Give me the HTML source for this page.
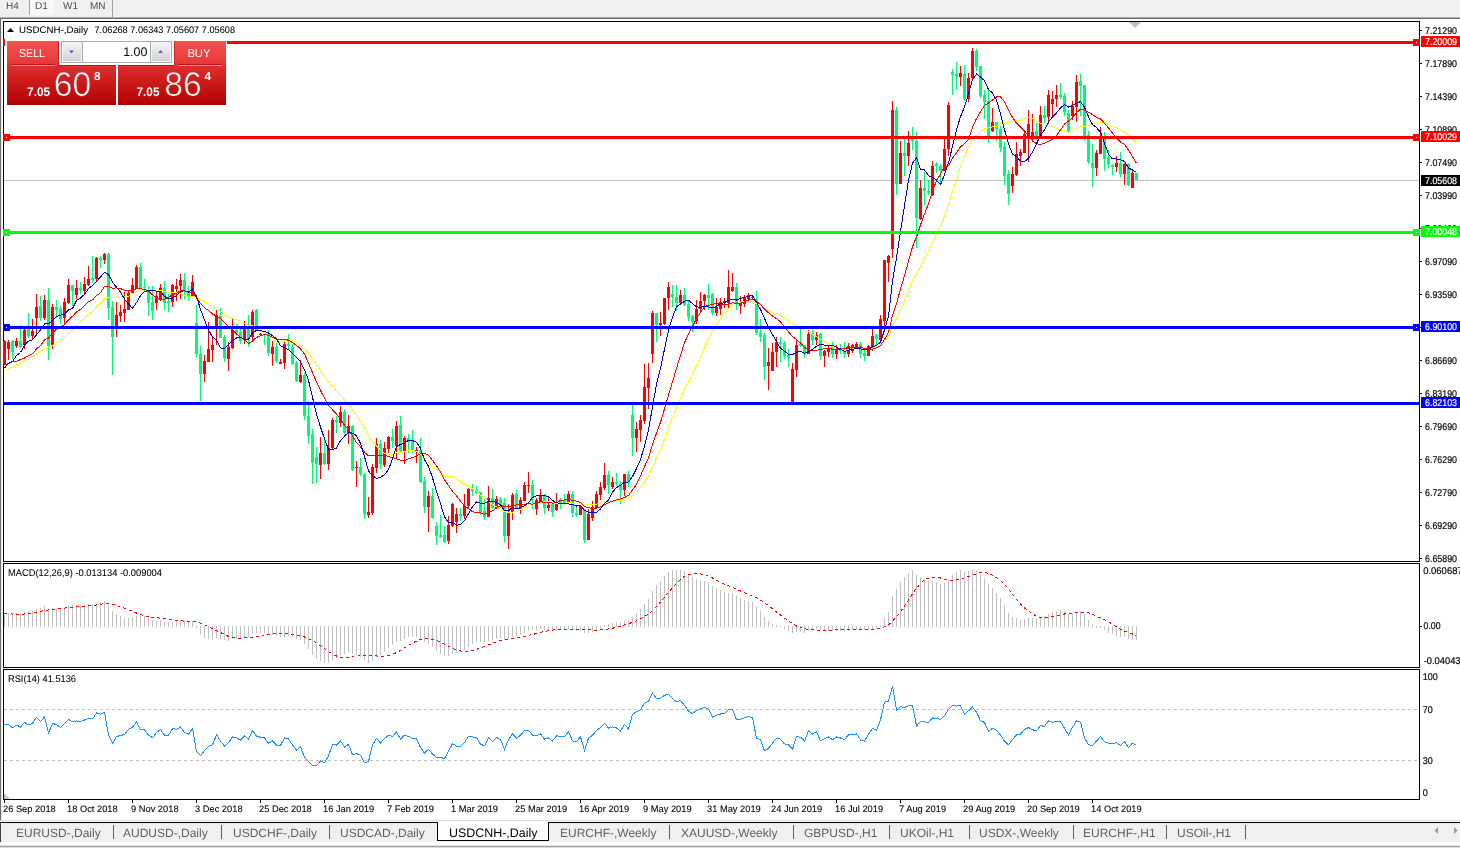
<!DOCTYPE html>
<html lang="en">
<head>
<meta charset="utf-8">
<title>USDCNH-,Daily</title>
<style>
html,body{margin:0;padding:0;background:#fff;}
body{text-rendering:geometricPrecision;width:1460px;height:848px;position:relative;overflow:hidden;font-family:"Liberation Sans",Arial,sans-serif;}
#toolbar{position:absolute;left:0;top:0;width:1460px;height:18px;background:#f0f0f0;border-bottom:1px solid #6e6e6e;box-shadow:inset 0 -1px 0 #acacac;box-sizing:content-box;}
#toolbar .tf{position:absolute;top:0px;font-size:10px;color:#4a4a4a;line-height:13px;}
#toolbar .sep{position:absolute;top:0;width:1px;height:15px;background:#a0a0a0;}
#toolbar .act{position:absolute;left:30px;top:0;width:24px;height:15px;background:#f8f8f8;}
#leftedge{position:absolute;left:0;top:19px;width:1px;height:802px;background:#6e6e6e;}
#leftedge2{position:absolute;left:1px;top:19px;width:1px;height:801px;background:#ececec;}
#chart{position:absolute;left:0;top:0;width:1460px;height:848px;}
#chart text{font-family:"Liberation Sans",Arial,sans-serif;}
/* one click trading panel */
#octbg{position:absolute;left:5px;top:38px;width:222px;height:67px;background:#fff;}
#oct{position:absolute;left:7px;top:41px;width:219px;height:64px;}
#oct .btn{position:absolute;top:0;height:24px;width:52px;background:linear-gradient(#f85050,#e53a3a);color:#fff;font-size:11.5px;letter-spacing:-0.3px;text-align:center;line-height:24px;}
#oct .btn span{display:inline-block;border-bottom:1px solid rgba(255,255,255,.55);width:44px;height:23px;line-height:24px;}
#oct .sell{left:0;}
#oct .buy{left:167px;}
#oct .big{position:absolute;top:24px;height:40px;background:linear-gradient(#e02d2d,#b80808 85%,#b00000);color:#fff;}
#oct .bigl{left:0;width:109px;}
#oct .bigr{left:111px;width:108px;}
#oct .sm{position:absolute;font-size:11.5px;font-weight:bold;bottom:8px;letter-spacing:0.3px;}
#oct .lg{position:absolute;font-size:31px;bottom:3.3px;line-height:34px;letter-spacing:0.5px;}
#oct .sup{position:absolute;font-size:11px;font-weight:bold;top:4.5px;}
#oct .spin{position:absolute;left:54px;top:0;width:111px;height:22px;background:#fff;border:1px solid #a8aab4;box-sizing:border-box;}
#oct .sb{position:absolute;top:0px;width:21px;height:20px;background:linear-gradient(#f6f6f6,#e2e2e2 50%,#d2d2d2);box-shadow:inset 0 0 0 1px #f4f4f4;box-sizing:border-box;}
#oct .val{position:absolute;right:23.5px;top:3px;font-size:12.5px;color:#000;line-height:15px;}
/* bottom tabs */
#tabs{position:absolute;left:0;top:820px;width:1460px;height:28px;background:#fff;}
#tabs .bar{position:absolute;left:0;top:3px;width:1460px;height:19px;background:#f0f0f0;}
#tabs .topl{position:absolute;left:0;top:0;width:1460px;height:1px;background:#dcdcdc;}
#tabs .blk{position:absolute;left:0;top:2px;width:1460px;height:1px;background:#000;}
#tabs .t{position:absolute;top:4.7px;font-size:12px;color:#606060;line-height:17px;white-space:nowrap;}
#tabs .s{position:absolute;top:5px;width:1px;height:14px;background:#606060;}
#tabs .active{position:absolute;left:437px;top:2px;width:110px;height:18px;background:#fff;border:1px solid #000;border-top:none;}
#tabs .active span{position:absolute;left:11px;top:2.7px;font-size:12.45px;color:#000;line-height:17px;white-space:nowrap;}
#tabs .bot1{position:absolute;left:0;top:25px;width:1460px;height:2px;background:linear-gradient(#dedede 50%,#a4a4a4 50%);}
#tabs .bot2{position:absolute;left:0;top:27px;width:1460px;height:1px;background:#dadada;}
#tabs .edge{position:absolute;left:0;top:2px;width:1px;height:20px;background:#404040;}
</style>
</head>
<body>
<div id="toolbar">
  <div class="act"></div>
  <div class="tf" style="left:6px">H4</div>
  <div class="sep" style="left:29px"></div>
  <div class="tf" style="left:35px">D1</div>
  <div class="tf" style="left:63px">W1</div>
  <div class="tf" style="left:90px">MN</div>
  <div class="sep" style="left:112px;height:17px"></div>
</div>
<div id="leftedge"></div><div id="leftedge2"></div>
<svg id="chart" width="1460" height="848" viewBox="0 0 1460 848">
<g shape-rendering="crispEdges">
<rect x="3.5" y="21.5" width="1416" height="540" fill="#fff" stroke="#000" stroke-width="1"/>
<rect x="3.5" y="563.5" width="1416" height="104" fill="#fff" stroke="#000" stroke-width="1"/>
<rect x="3.5" y="669.5" width="1416" height="130" fill="#fff" stroke="#000" stroke-width="1"/>
<rect x="4" y="180" width="1415" height="1" fill="#c0c0c0"/>
</g>
<g shape-rendering="crispEdges">
<rect x="4" y="340" width="1" height="25" fill="#FF0000"/>
<rect x="3" y="341" width="3" height="23" fill="#FF0000"/>
<rect x="8" y="340" width="1" height="20" fill="#FF0000"/>
<rect x="7" y="342" width="3" height="7" fill="#FF0000"/>
<rect x="12" y="340" width="1" height="19" fill="#00FA72"/>
<rect x="11" y="341" width="3" height="11" fill="#00FA72"/>
<rect x="16" y="338" width="1" height="10" fill="#FF0000"/>
<rect x="15" y="341" width="3" height="5" fill="#FF0000"/>
<rect x="20" y="325" width="1" height="23" fill="#00FA72"/>
<rect x="19" y="341" width="3" height="6" fill="#00FA72"/>
<rect x="24" y="329" width="1" height="20" fill="#FF0000"/>
<rect x="23" y="330" width="3" height="15" fill="#FF0000"/>
<rect x="28" y="313" width="1" height="25" fill="#00FA72"/>
<rect x="27" y="329" width="3" height="7" fill="#00FA72"/>
<rect x="32" y="319" width="1" height="21" fill="#FF0000"/>
<rect x="31" y="331" width="3" height="5" fill="#FF0000"/>
<rect x="36" y="294" width="1" height="40" fill="#FF0000"/>
<rect x="35" y="307" width="3" height="11" fill="#FF0000"/>
<rect x="40" y="296" width="1" height="25" fill="#00FA72"/>
<rect x="39" y="306" width="3" height="12" fill="#00FA72"/>
<rect x="44" y="295" width="1" height="25" fill="#FF0000"/>
<rect x="43" y="300" width="3" height="18" fill="#FF0000"/>
<rect x="48" y="288" width="1" height="72" fill="#00FA72"/>
<rect x="47" y="300" width="3" height="46" fill="#00FA72"/>
<rect x="52" y="304" width="1" height="45" fill="#FF0000"/>
<rect x="51" y="307" width="3" height="38" fill="#FF0000"/>
<rect x="56" y="300" width="1" height="18" fill="#00FA72"/>
<rect x="55" y="307" width="3" height="3" fill="#00FA72"/>
<rect x="60" y="306" width="1" height="18" fill="#00FA72"/>
<rect x="59" y="309" width="3" height="10" fill="#00FA72"/>
<rect x="64" y="298" width="1" height="26" fill="#FF0000"/>
<rect x="63" y="302" width="3" height="16" fill="#FF0000"/>
<rect x="68" y="279" width="1" height="25" fill="#FF0000"/>
<rect x="67" y="285" width="3" height="18" fill="#FF0000"/>
<rect x="72" y="285" width="1" height="21" fill="#00FA72"/>
<rect x="71" y="285" width="3" height="6" fill="#00FA72"/>
<rect x="76" y="280" width="1" height="19" fill="#FF0000"/>
<rect x="75" y="288" width="3" height="7" fill="#FF0000"/>
<rect x="80" y="282" width="1" height="12" fill="#00FA72"/>
<rect x="79" y="288" width="3" height="2" fill="#00FA72"/>
<rect x="84" y="277" width="1" height="16" fill="#FF0000"/>
<rect x="83" y="284" width="3" height="7" fill="#FF0000"/>
<rect x="88" y="266" width="1" height="20" fill="#FF0000"/>
<rect x="87" y="279" width="3" height="6" fill="#FF0000"/>
<rect x="92" y="256" width="1" height="27" fill="#00FA72"/>
<rect x="91" y="278" width="3" height="2" fill="#00FA72"/>
<rect x="96" y="257" width="1" height="24" fill="#FF0000"/>
<rect x="95" y="258" width="3" height="21" fill="#FF0000"/>
<rect x="100" y="256" width="1" height="12" fill="#00FA72"/>
<rect x="99" y="258" width="3" height="2" fill="#00FA72"/>
<rect x="104" y="253" width="1" height="11" fill="#FF0000"/>
<rect x="103" y="254" width="3" height="6" fill="#FF0000"/>
<rect x="108" y="253" width="1" height="67" fill="#00FA72"/>
<rect x="107" y="254" width="3" height="54" fill="#00FA72"/>
<rect x="112" y="301" width="1" height="74" fill="#00FA72"/>
<rect x="111" y="307" width="3" height="30" fill="#00FA72"/>
<rect x="116" y="302" width="1" height="35" fill="#FF0000"/>
<rect x="115" y="315" width="3" height="14" fill="#FF0000"/>
<rect x="120" y="305" width="1" height="17" fill="#FF0000"/>
<rect x="119" y="312" width="3" height="4" fill="#FF0000"/>
<rect x="124" y="292" width="1" height="30" fill="#FF0000"/>
<rect x="123" y="309" width="3" height="4" fill="#FF0000"/>
<rect x="128" y="291" width="1" height="19" fill="#FF0000"/>
<rect x="127" y="293" width="3" height="17" fill="#FF0000"/>
<rect x="132" y="278" width="1" height="16" fill="#FF0000"/>
<rect x="131" y="285" width="3" height="8" fill="#FF0000"/>
<rect x="136" y="265" width="1" height="23" fill="#FF0000"/>
<rect x="135" y="267" width="3" height="21" fill="#FF0000"/>
<rect x="140" y="263" width="1" height="25" fill="#00FA72"/>
<rect x="139" y="267" width="3" height="21" fill="#00FA72"/>
<rect x="144" y="279" width="1" height="13" fill="#00FA72"/>
<rect x="143" y="287" width="3" height="1" fill="#00FA72"/>
<rect x="148" y="286" width="1" height="30" fill="#00FA72"/>
<rect x="147" y="290" width="3" height="13" fill="#00FA72"/>
<rect x="152" y="286" width="1" height="34" fill="#00FA72"/>
<rect x="151" y="302" width="3" height="9" fill="#00FA72"/>
<rect x="156" y="291" width="1" height="19" fill="#FF0000"/>
<rect x="155" y="296" width="3" height="7" fill="#FF0000"/>
<rect x="160" y="284" width="1" height="17" fill="#FF0000"/>
<rect x="159" y="288" width="3" height="11" fill="#FF0000"/>
<rect x="164" y="281" width="1" height="29" fill="#00FA72"/>
<rect x="163" y="288" width="3" height="15" fill="#00FA72"/>
<rect x="168" y="294" width="1" height="18" fill="#00FA72"/>
<rect x="167" y="301" width="3" height="2" fill="#00FA72"/>
<rect x="172" y="284" width="1" height="23" fill="#FF0000"/>
<rect x="171" y="285" width="3" height="17" fill="#FF0000"/>
<rect x="176" y="279" width="1" height="22" fill="#FF0000"/>
<rect x="175" y="286" width="3" height="3" fill="#FF0000"/>
<rect x="180" y="274" width="1" height="25" fill="#FF0000"/>
<rect x="179" y="280" width="3" height="6" fill="#FF0000"/>
<rect x="184" y="273" width="1" height="26" fill="#00FA72"/>
<rect x="183" y="280" width="3" height="12" fill="#00FA72"/>
<rect x="188" y="286" width="1" height="15" fill="#00FA72"/>
<rect x="187" y="292" width="3" height="4" fill="#00FA72"/>
<rect x="192" y="275" width="1" height="21" fill="#FF0000"/>
<rect x="191" y="282" width="3" height="14" fill="#FF0000"/>
<rect x="196" y="305" width="1" height="52" fill="#00FA72"/>
<rect x="195" y="323" width="3" height="31" fill="#00FA72"/>
<rect x="200" y="346" width="1" height="55" fill="#00FA72"/>
<rect x="199" y="354" width="3" height="20" fill="#00FA72"/>
<rect x="204" y="355" width="1" height="27" fill="#FF0000"/>
<rect x="203" y="361" width="3" height="13" fill="#FF0000"/>
<rect x="208" y="322" width="1" height="40" fill="#FF0000"/>
<rect x="207" y="349" width="3" height="13" fill="#FF0000"/>
<rect x="212" y="338" width="1" height="24" fill="#FF0000"/>
<rect x="211" y="345" width="3" height="5" fill="#FF0000"/>
<rect x="216" y="310" width="1" height="35" fill="#FF0000"/>
<rect x="215" y="315" width="3" height="11" fill="#FF0000"/>
<rect x="220" y="308" width="1" height="30" fill="#00FA72"/>
<rect x="219" y="316" width="3" height="22" fill="#00FA72"/>
<rect x="224" y="335" width="1" height="27" fill="#00FA72"/>
<rect x="223" y="337" width="3" height="21" fill="#00FA72"/>
<rect x="228" y="342" width="1" height="29" fill="#FF0000"/>
<rect x="227" y="347" width="3" height="12" fill="#FF0000"/>
<rect x="232" y="319" width="1" height="30" fill="#FF0000"/>
<rect x="231" y="330" width="3" height="18" fill="#FF0000"/>
<rect x="236" y="324" width="1" height="12" fill="#00FA72"/>
<rect x="235" y="330" width="3" height="3" fill="#00FA72"/>
<rect x="240" y="329" width="1" height="15" fill="#00FA72"/>
<rect x="239" y="332" width="3" height="9" fill="#00FA72"/>
<rect x="244" y="321" width="1" height="23" fill="#FF0000"/>
<rect x="243" y="328" width="3" height="11" fill="#FF0000"/>
<rect x="248" y="315" width="1" height="32" fill="#00FA72"/>
<rect x="247" y="328" width="3" height="11" fill="#00FA72"/>
<rect x="252" y="310" width="1" height="32" fill="#FF0000"/>
<rect x="251" y="312" width="3" height="25" fill="#FF0000"/>
<rect x="256" y="309" width="1" height="22" fill="#00FA72"/>
<rect x="255" y="310" width="3" height="20" fill="#00FA72"/>
<rect x="260" y="333" width="1" height="3" fill="#FF0000"/>
<rect x="259" y="334" width="3" height="1" fill="#FF0000"/>
<rect x="264" y="333" width="1" height="12" fill="#00FA72"/>
<rect x="263" y="334" width="3" height="1" fill="#00FA72"/>
<rect x="268" y="330" width="1" height="26" fill="#00FA72"/>
<rect x="267" y="334" width="3" height="19" fill="#00FA72"/>
<rect x="272" y="341" width="1" height="25" fill="#FF0000"/>
<rect x="271" y="347" width="3" height="7" fill="#FF0000"/>
<rect x="276" y="342" width="1" height="21" fill="#00FA72"/>
<rect x="275" y="347" width="3" height="14" fill="#00FA72"/>
<rect x="280" y="359" width="1" height="5" fill="#FF0000"/>
<rect x="279" y="362" width="3" height="2" fill="#FF0000"/>
<rect x="284" y="342" width="1" height="27" fill="#FF0000"/>
<rect x="283" y="344" width="3" height="19" fill="#FF0000"/>
<rect x="288" y="334" width="1" height="16" fill="#00FA72"/>
<rect x="287" y="344" width="3" height="2" fill="#00FA72"/>
<rect x="292" y="344" width="1" height="21" fill="#00FA72"/>
<rect x="291" y="347" width="3" height="17" fill="#00FA72"/>
<rect x="296" y="361" width="1" height="21" fill="#00FA72"/>
<rect x="295" y="363" width="3" height="18" fill="#00FA72"/>
<rect x="300" y="360" width="1" height="23" fill="#FF0000"/>
<rect x="299" y="375" width="3" height="7" fill="#FF0000"/>
<rect x="304" y="373" width="1" height="47" fill="#00FA72"/>
<rect x="303" y="375" width="3" height="41" fill="#00FA72"/>
<rect x="308" y="401" width="1" height="43" fill="#00FA72"/>
<rect x="307" y="416" width="3" height="20" fill="#00FA72"/>
<rect x="312" y="429" width="1" height="55" fill="#00FA72"/>
<rect x="311" y="434" width="3" height="29" fill="#00FA72"/>
<rect x="316" y="447" width="1" height="36" fill="#00FA72"/>
<rect x="315" y="457" width="3" height="7" fill="#00FA72"/>
<rect x="320" y="437" width="1" height="42" fill="#FF0000"/>
<rect x="319" y="453" width="3" height="12" fill="#FF0000"/>
<rect x="324" y="437" width="1" height="28" fill="#00FA72"/>
<rect x="323" y="453" width="3" height="11" fill="#00FA72"/>
<rect x="328" y="430" width="1" height="40" fill="#FF0000"/>
<rect x="327" y="448" width="3" height="16" fill="#FF0000"/>
<rect x="332" y="418" width="1" height="32" fill="#FF0000"/>
<rect x="331" y="420" width="3" height="28" fill="#FF0000"/>
<rect x="336" y="416" width="1" height="17" fill="#00FA72"/>
<rect x="335" y="420" width="3" height="2" fill="#00FA72"/>
<rect x="340" y="406" width="1" height="21" fill="#FF0000"/>
<rect x="339" y="412" width="3" height="11" fill="#FF0000"/>
<rect x="344" y="409" width="1" height="25" fill="#00FA72"/>
<rect x="343" y="412" width="3" height="21" fill="#00FA72"/>
<rect x="348" y="415" width="1" height="29" fill="#FF0000"/>
<rect x="347" y="426" width="3" height="7" fill="#FF0000"/>
<rect x="352" y="425" width="1" height="46" fill="#00FA72"/>
<rect x="351" y="426" width="3" height="44" fill="#00FA72"/>
<rect x="356" y="461" width="1" height="26" fill="#FF0000"/>
<rect x="355" y="467" width="3" height="1" fill="#FF0000"/>
<rect x="360" y="458" width="1" height="18" fill="#00FA72"/>
<rect x="359" y="467" width="3" height="7" fill="#00FA72"/>
<rect x="364" y="473" width="1" height="46" fill="#00FA72"/>
<rect x="363" y="474" width="3" height="40" fill="#00FA72"/>
<rect x="368" y="497" width="1" height="21" fill="#FF0000"/>
<rect x="367" y="512" width="3" height="3" fill="#FF0000"/>
<rect x="372" y="464" width="1" height="51" fill="#FF0000"/>
<rect x="371" y="467" width="3" height="46" fill="#FF0000"/>
<rect x="376" y="438" width="1" height="35" fill="#FF0000"/>
<rect x="375" y="444" width="3" height="24" fill="#FF0000"/>
<rect x="380" y="440" width="1" height="29" fill="#00FA72"/>
<rect x="379" y="444" width="3" height="20" fill="#00FA72"/>
<rect x="384" y="442" width="1" height="25" fill="#FF0000"/>
<rect x="383" y="448" width="3" height="17" fill="#FF0000"/>
<rect x="388" y="436" width="1" height="17" fill="#FF0000"/>
<rect x="387" y="437" width="3" height="12" fill="#FF0000"/>
<rect x="392" y="429" width="1" height="19" fill="#00FA72"/>
<rect x="391" y="437" width="3" height="4" fill="#00FA72"/>
<rect x="396" y="421" width="1" height="37" fill="#FF0000"/>
<rect x="395" y="426" width="3" height="20" fill="#FF0000"/>
<rect x="400" y="416" width="1" height="37" fill="#00FA72"/>
<rect x="399" y="425" width="3" height="26" fill="#00FA72"/>
<rect x="404" y="436" width="1" height="28" fill="#FF0000"/>
<rect x="403" y="438" width="3" height="13" fill="#FF0000"/>
<rect x="408" y="434" width="1" height="19" fill="#00FA72"/>
<rect x="407" y="438" width="3" height="4" fill="#00FA72"/>
<rect x="412" y="430" width="1" height="23" fill="#00FA72"/>
<rect x="411" y="441" width="3" height="9" fill="#00FA72"/>
<rect x="416" y="447" width="1" height="16" fill="#FF0000"/>
<rect x="415" y="450" width="3" height="1" fill="#FF0000"/>
<rect x="420" y="438" width="1" height="45" fill="#00FA72"/>
<rect x="419" y="450" width="3" height="32" fill="#00FA72"/>
<rect x="424" y="477" width="1" height="36" fill="#00FA72"/>
<rect x="423" y="481" width="3" height="26" fill="#00FA72"/>
<rect x="428" y="491" width="1" height="41" fill="#FF0000"/>
<rect x="427" y="496" width="3" height="11" fill="#FF0000"/>
<rect x="432" y="488" width="1" height="31" fill="#00FA72"/>
<rect x="431" y="496" width="3" height="22" fill="#00FA72"/>
<rect x="436" y="522" width="1" height="23" fill="#00FA72"/>
<rect x="435" y="526" width="3" height="10" fill="#00FA72"/>
<rect x="440" y="515" width="1" height="23" fill="#00FA72"/>
<rect x="439" y="535" width="3" height="2" fill="#00FA72"/>
<rect x="444" y="526" width="1" height="17" fill="#00FA72"/>
<rect x="443" y="535" width="3" height="7" fill="#00FA72"/>
<rect x="448" y="516" width="1" height="28" fill="#FF0000"/>
<rect x="447" y="525" width="3" height="16" fill="#FF0000"/>
<rect x="452" y="503" width="1" height="24" fill="#FF0000"/>
<rect x="451" y="504" width="3" height="22" fill="#FF0000"/>
<rect x="456" y="508" width="1" height="25" fill="#FF0000"/>
<rect x="455" y="514" width="3" height="8" fill="#FF0000"/>
<rect x="460" y="508" width="1" height="13" fill="#00FA72"/>
<rect x="459" y="514" width="3" height="2" fill="#00FA72"/>
<rect x="464" y="494" width="1" height="25" fill="#FF0000"/>
<rect x="463" y="506" width="3" height="10" fill="#FF0000"/>
<rect x="468" y="488" width="1" height="20" fill="#FF0000"/>
<rect x="467" y="489" width="3" height="17" fill="#FF0000"/>
<rect x="472" y="484" width="1" height="12" fill="#00FA72"/>
<rect x="471" y="489" width="3" height="2" fill="#00FA72"/>
<rect x="476" y="486" width="1" height="8" fill="#00FA72"/>
<rect x="475" y="490" width="3" height="3" fill="#00FA72"/>
<rect x="480" y="492" width="1" height="23" fill="#00FA72"/>
<rect x="479" y="492" width="3" height="20" fill="#00FA72"/>
<rect x="484" y="499" width="1" height="21" fill="#00FA72"/>
<rect x="483" y="511" width="3" height="6" fill="#00FA72"/>
<rect x="488" y="486" width="1" height="31" fill="#FF0000"/>
<rect x="487" y="498" width="3" height="19" fill="#FF0000"/>
<rect x="492" y="489" width="1" height="20" fill="#00FA72"/>
<rect x="491" y="498" width="3" height="10" fill="#00FA72"/>
<rect x="496" y="496" width="1" height="13" fill="#FF0000"/>
<rect x="495" y="499" width="3" height="9" fill="#FF0000"/>
<rect x="500" y="497" width="1" height="11" fill="#00FA72"/>
<rect x="499" y="499" width="3" height="6" fill="#00FA72"/>
<rect x="504" y="498" width="1" height="44" fill="#00FA72"/>
<rect x="503" y="503" width="3" height="33" fill="#00FA72"/>
<rect x="508" y="504" width="1" height="45" fill="#FF0000"/>
<rect x="507" y="512" width="3" height="24" fill="#FF0000"/>
<rect x="512" y="493" width="1" height="27" fill="#FF0000"/>
<rect x="511" y="495" width="3" height="17" fill="#FF0000"/>
<rect x="516" y="490" width="1" height="18" fill="#00FA72"/>
<rect x="515" y="494" width="3" height="14" fill="#00FA72"/>
<rect x="520" y="497" width="1" height="17" fill="#FF0000"/>
<rect x="519" y="500" width="3" height="8" fill="#FF0000"/>
<rect x="524" y="482" width="1" height="19" fill="#FF0000"/>
<rect x="523" y="485" width="3" height="16" fill="#FF0000"/>
<rect x="528" y="472" width="1" height="21" fill="#FF0000"/>
<rect x="527" y="485" width="3" height="1" fill="#FF0000"/>
<rect x="532" y="480" width="1" height="29" fill="#00FA72"/>
<rect x="531" y="485" width="3" height="13" fill="#00FA72"/>
<rect x="536" y="498" width="1" height="17" fill="#FF0000"/>
<rect x="535" y="500" width="3" height="9" fill="#FF0000"/>
<rect x="540" y="489" width="1" height="13" fill="#FF0000"/>
<rect x="539" y="495" width="3" height="7" fill="#FF0000"/>
<rect x="544" y="494" width="1" height="20" fill="#00FA72"/>
<rect x="543" y="495" width="3" height="13" fill="#00FA72"/>
<rect x="548" y="497" width="1" height="14" fill="#FF0000"/>
<rect x="547" y="505" width="3" height="3" fill="#FF0000"/>
<rect x="552" y="503" width="1" height="14" fill="#00FA72"/>
<rect x="551" y="504" width="3" height="8" fill="#00FA72"/>
<rect x="556" y="493" width="1" height="18" fill="#FF0000"/>
<rect x="555" y="502" width="3" height="8" fill="#FF0000"/>
<rect x="560" y="498" width="1" height="11" fill="#00FA72"/>
<rect x="559" y="501" width="3" height="2" fill="#00FA72"/>
<rect x="564" y="494" width="1" height="10" fill="#00FA72"/>
<rect x="563" y="500" width="3" height="3" fill="#00FA72"/>
<rect x="568" y="491" width="1" height="13" fill="#FF0000"/>
<rect x="567" y="494" width="3" height="9" fill="#FF0000"/>
<rect x="572" y="491" width="1" height="26" fill="#00FA72"/>
<rect x="571" y="494" width="3" height="19" fill="#00FA72"/>
<rect x="576" y="507" width="1" height="10" fill="#00FA72"/>
<rect x="575" y="513" width="3" height="2" fill="#00FA72"/>
<rect x="580" y="505" width="1" height="10" fill="#FF0000"/>
<rect x="579" y="506" width="3" height="9" fill="#FF0000"/>
<rect x="584" y="509" width="1" height="34" fill="#00FA72"/>
<rect x="583" y="509" width="3" height="31" fill="#00FA72"/>
<rect x="588" y="509" width="1" height="31" fill="#FF0000"/>
<rect x="587" y="514" width="3" height="26" fill="#FF0000"/>
<rect x="592" y="501" width="1" height="20" fill="#FF0000"/>
<rect x="591" y="507" width="3" height="11" fill="#FF0000"/>
<rect x="596" y="491" width="1" height="18" fill="#FF0000"/>
<rect x="595" y="494" width="3" height="14" fill="#FF0000"/>
<rect x="600" y="482" width="1" height="18" fill="#FF0000"/>
<rect x="599" y="487" width="3" height="8" fill="#FF0000"/>
<rect x="604" y="463" width="1" height="27" fill="#FF0000"/>
<rect x="603" y="475" width="3" height="13" fill="#FF0000"/>
<rect x="608" y="471" width="1" height="23" fill="#00FA72"/>
<rect x="607" y="475" width="3" height="10" fill="#00FA72"/>
<rect x="612" y="477" width="1" height="12" fill="#FF0000"/>
<rect x="611" y="482" width="3" height="5" fill="#FF0000"/>
<rect x="616" y="473" width="1" height="13" fill="#00FA72"/>
<rect x="615" y="482" width="3" height="2" fill="#00FA72"/>
<rect x="620" y="481" width="1" height="23" fill="#00FA72"/>
<rect x="619" y="484" width="3" height="6" fill="#00FA72"/>
<rect x="624" y="474" width="1" height="22" fill="#FF0000"/>
<rect x="623" y="474" width="3" height="16" fill="#FF0000"/>
<rect x="628" y="471" width="1" height="16" fill="#00FA72"/>
<rect x="627" y="474" width="3" height="9" fill="#00FA72"/>
<rect x="632" y="405" width="1" height="51" fill="#00FA72"/>
<rect x="631" y="415" width="3" height="23" fill="#00FA72"/>
<rect x="636" y="422" width="1" height="30" fill="#FF0000"/>
<rect x="635" y="429" width="3" height="9" fill="#FF0000"/>
<rect x="640" y="415" width="1" height="27" fill="#FF0000"/>
<rect x="639" y="420" width="3" height="10" fill="#FF0000"/>
<rect x="644" y="364" width="1" height="60" fill="#FF0000"/>
<rect x="643" y="387" width="3" height="34" fill="#FF0000"/>
<rect x="648" y="363" width="1" height="46" fill="#FF0000"/>
<rect x="647" y="378" width="3" height="10" fill="#FF0000"/>
<rect x="652" y="311" width="1" height="52" fill="#FF0000"/>
<rect x="651" y="313" width="3" height="41" fill="#FF0000"/>
<rect x="656" y="313" width="1" height="29" fill="#00FA72"/>
<rect x="655" y="313" width="3" height="12" fill="#00FA72"/>
<rect x="660" y="312" width="1" height="24" fill="#FF0000"/>
<rect x="659" y="323" width="3" height="2" fill="#FF0000"/>
<rect x="664" y="298" width="1" height="27" fill="#FF0000"/>
<rect x="663" y="298" width="3" height="26" fill="#FF0000"/>
<rect x="668" y="282" width="1" height="28" fill="#FF0000"/>
<rect x="667" y="287" width="3" height="11" fill="#FF0000"/>
<rect x="672" y="285" width="1" height="22" fill="#00FA72"/>
<rect x="671" y="294" width="3" height="3" fill="#00FA72"/>
<rect x="676" y="285" width="1" height="26" fill="#00FA72"/>
<rect x="675" y="297" width="3" height="6" fill="#00FA72"/>
<rect x="680" y="290" width="1" height="14" fill="#FF0000"/>
<rect x="679" y="295" width="3" height="8" fill="#FF0000"/>
<rect x="684" y="288" width="1" height="18" fill="#00FA72"/>
<rect x="683" y="295" width="3" height="10" fill="#00FA72"/>
<rect x="688" y="300" width="1" height="21" fill="#00FA72"/>
<rect x="687" y="304" width="3" height="13" fill="#00FA72"/>
<rect x="692" y="315" width="1" height="17" fill="#00FA72"/>
<rect x="691" y="316" width="3" height="6" fill="#00FA72"/>
<rect x="696" y="300" width="1" height="24" fill="#FF0000"/>
<rect x="695" y="309" width="3" height="12" fill="#FF0000"/>
<rect x="700" y="292" width="1" height="19" fill="#FF0000"/>
<rect x="699" y="301" width="3" height="8" fill="#FF0000"/>
<rect x="704" y="294" width="1" height="16" fill="#FF0000"/>
<rect x="703" y="295" width="3" height="6" fill="#FF0000"/>
<rect x="708" y="284" width="1" height="26" fill="#00FA72"/>
<rect x="707" y="295" width="3" height="3" fill="#00FA72"/>
<rect x="712" y="293" width="1" height="22" fill="#00FA72"/>
<rect x="711" y="294" width="3" height="19" fill="#00FA72"/>
<rect x="716" y="298" width="1" height="18" fill="#FF0000"/>
<rect x="715" y="307" width="3" height="6" fill="#FF0000"/>
<rect x="720" y="298" width="1" height="17" fill="#FF0000"/>
<rect x="719" y="302" width="3" height="7" fill="#FF0000"/>
<rect x="724" y="298" width="1" height="10" fill="#FF0000"/>
<rect x="723" y="301" width="3" height="2" fill="#FF0000"/>
<rect x="728" y="270" width="1" height="38" fill="#FF0000"/>
<rect x="727" y="287" width="3" height="16" fill="#FF0000"/>
<rect x="732" y="273" width="1" height="19" fill="#FF0000"/>
<rect x="731" y="287" width="3" height="4" fill="#FF0000"/>
<rect x="736" y="283" width="1" height="27" fill="#00FA72"/>
<rect x="735" y="287" width="3" height="17" fill="#00FA72"/>
<rect x="740" y="296" width="1" height="18" fill="#FF0000"/>
<rect x="739" y="302" width="3" height="4" fill="#FF0000"/>
<rect x="744" y="295" width="1" height="12" fill="#FF0000"/>
<rect x="743" y="298" width="3" height="6" fill="#FF0000"/>
<rect x="748" y="293" width="1" height="7" fill="#FF0000"/>
<rect x="747" y="295" width="3" height="4" fill="#FF0000"/>
<rect x="752" y="295" width="1" height="4" fill="#FF0000"/>
<rect x="751" y="297" width="3" height="1" fill="#FF0000"/>
<rect x="756" y="291" width="1" height="44" fill="#00FA72"/>
<rect x="755" y="299" width="3" height="34" fill="#00FA72"/>
<rect x="760" y="319" width="1" height="23" fill="#00FA72"/>
<rect x="759" y="333" width="3" height="4" fill="#00FA72"/>
<rect x="764" y="333" width="1" height="47" fill="#00FA72"/>
<rect x="763" y="335" width="3" height="32" fill="#00FA72"/>
<rect x="768" y="348" width="1" height="42" fill="#FF0000"/>
<rect x="767" y="362" width="3" height="4" fill="#FF0000"/>
<rect x="772" y="343" width="1" height="28" fill="#FF0000"/>
<rect x="771" y="352" width="3" height="19" fill="#FF0000"/>
<rect x="776" y="337" width="1" height="30" fill="#FF0000"/>
<rect x="775" y="342" width="3" height="10" fill="#FF0000"/>
<rect x="780" y="337" width="1" height="25" fill="#00FA72"/>
<rect x="779" y="342" width="3" height="2" fill="#00FA72"/>
<rect x="784" y="341" width="1" height="18" fill="#00FA72"/>
<rect x="783" y="343" width="3" height="13" fill="#00FA72"/>
<rect x="788" y="349" width="1" height="18" fill="#00FA72"/>
<rect x="787" y="355" width="3" height="3" fill="#00FA72"/>
<rect x="792" y="363" width="1" height="39" fill="#FF0000"/>
<rect x="791" y="369" width="3" height="33" fill="#FF0000"/>
<rect x="796" y="340" width="1" height="37" fill="#FF0000"/>
<rect x="795" y="345" width="3" height="25" fill="#FF0000"/>
<rect x="800" y="329" width="1" height="18" fill="#00FA72"/>
<rect x="799" y="344" width="3" height="2" fill="#00FA72"/>
<rect x="804" y="345" width="1" height="13" fill="#00FA72"/>
<rect x="803" y="345" width="3" height="9" fill="#00FA72"/>
<rect x="808" y="330" width="1" height="24" fill="#FF0000"/>
<rect x="807" y="334" width="3" height="20" fill="#FF0000"/>
<rect x="812" y="330" width="1" height="15" fill="#00FA72"/>
<rect x="811" y="333" width="3" height="7" fill="#00FA72"/>
<rect x="816" y="332" width="1" height="13" fill="#FF0000"/>
<rect x="815" y="335" width="3" height="5" fill="#FF0000"/>
<rect x="820" y="333" width="1" height="27" fill="#00FA72"/>
<rect x="819" y="334" width="3" height="22" fill="#00FA72"/>
<rect x="824" y="350" width="1" height="17" fill="#FF0000"/>
<rect x="823" y="351" width="3" height="5" fill="#FF0000"/>
<rect x="828" y="346" width="1" height="11" fill="#FF0000"/>
<rect x="827" y="348" width="3" height="4" fill="#FF0000"/>
<rect x="832" y="342" width="1" height="16" fill="#00FA72"/>
<rect x="831" y="347" width="3" height="7" fill="#00FA72"/>
<rect x="836" y="345" width="1" height="14" fill="#FF0000"/>
<rect x="835" y="348" width="3" height="6" fill="#FF0000"/>
<rect x="840" y="344" width="1" height="10" fill="#00FA72"/>
<rect x="839" y="348" width="3" height="3" fill="#00FA72"/>
<rect x="844" y="342" width="1" height="16" fill="#00FA72"/>
<rect x="843" y="350" width="3" height="4" fill="#00FA72"/>
<rect x="848" y="343" width="1" height="14" fill="#FF0000"/>
<rect x="847" y="346" width="3" height="8" fill="#FF0000"/>
<rect x="852" y="344" width="1" height="9" fill="#FF0000"/>
<rect x="851" y="345" width="3" height="6" fill="#FF0000"/>
<rect x="856" y="342" width="1" height="6" fill="#FF0000"/>
<rect x="855" y="344" width="3" height="3" fill="#FF0000"/>
<rect x="860" y="342" width="1" height="16" fill="#00FA72"/>
<rect x="859" y="344" width="3" height="10" fill="#00FA72"/>
<rect x="864" y="350" width="1" height="11" fill="#00FA72"/>
<rect x="863" y="353" width="3" height="3" fill="#00FA72"/>
<rect x="868" y="345" width="1" height="11" fill="#FF0000"/>
<rect x="867" y="346" width="3" height="10" fill="#FF0000"/>
<rect x="872" y="329" width="1" height="22" fill="#FF0000"/>
<rect x="871" y="336" width="3" height="11" fill="#FF0000"/>
<rect x="876" y="334" width="1" height="11" fill="#00FA72"/>
<rect x="875" y="335" width="3" height="4" fill="#00FA72"/>
<rect x="880" y="315" width="1" height="26" fill="#FF0000"/>
<rect x="879" y="319" width="3" height="21" fill="#FF0000"/>
<rect x="884" y="260" width="1" height="67" fill="#FF0000"/>
<rect x="883" y="260" width="3" height="61" fill="#FF0000"/>
<rect x="888" y="255" width="1" height="27" fill="#FF0000"/>
<rect x="887" y="256" width="3" height="7" fill="#FF0000"/>
<rect x="892" y="101" width="1" height="157" fill="#FF0000"/>
<rect x="891" y="110" width="3" height="139" fill="#FF0000"/>
<rect x="896" y="107" width="1" height="88" fill="#00FA72"/>
<rect x="895" y="110" width="3" height="74" fill="#00FA72"/>
<rect x="900" y="141" width="1" height="43" fill="#FF0000"/>
<rect x="899" y="153" width="3" height="31" fill="#FF0000"/>
<rect x="904" y="139" width="1" height="37" fill="#00FA72"/>
<rect x="903" y="153" width="3" height="3" fill="#00FA72"/>
<rect x="908" y="131" width="1" height="35" fill="#FF0000"/>
<rect x="907" y="143" width="3" height="13" fill="#FF0000"/>
<rect x="912" y="127" width="1" height="23" fill="#00FA72"/>
<rect x="911" y="139" width="3" height="2" fill="#00FA72"/>
<rect x="916" y="132" width="1" height="116" fill="#00FA72"/>
<rect x="915" y="141" width="3" height="77" fill="#00FA72"/>
<rect x="920" y="180" width="1" height="40" fill="#FF0000"/>
<rect x="919" y="188" width="3" height="31" fill="#FF0000"/>
<rect x="924" y="172" width="1" height="33" fill="#00FA72"/>
<rect x="923" y="188" width="3" height="3" fill="#00FA72"/>
<rect x="928" y="180" width="1" height="15" fill="#00FA72"/>
<rect x="927" y="191" width="3" height="2" fill="#00FA72"/>
<rect x="932" y="161" width="1" height="35" fill="#FF0000"/>
<rect x="931" y="166" width="3" height="29" fill="#FF0000"/>
<rect x="936" y="162" width="1" height="11" fill="#00FA72"/>
<rect x="935" y="164" width="3" height="2" fill="#00FA72"/>
<rect x="940" y="164" width="1" height="19" fill="#00FA72"/>
<rect x="939" y="166" width="3" height="5" fill="#00FA72"/>
<rect x="944" y="138" width="1" height="33" fill="#FF0000"/>
<rect x="943" y="149" width="3" height="22" fill="#FF0000"/>
<rect x="948" y="102" width="1" height="54" fill="#FF0000"/>
<rect x="947" y="105" width="3" height="44" fill="#FF0000"/>
<rect x="952" y="69" width="1" height="26" fill="#00FA72"/>
<rect x="951" y="72" width="3" height="3" fill="#00FA72"/>
<rect x="956" y="62" width="1" height="28" fill="#00FA72"/>
<rect x="955" y="74" width="3" height="3" fill="#00FA72"/>
<rect x="960" y="66" width="1" height="20" fill="#FF0000"/>
<rect x="959" y="73" width="3" height="4" fill="#FF0000"/>
<rect x="964" y="65" width="1" height="36" fill="#00FA72"/>
<rect x="963" y="74" width="3" height="25" fill="#00FA72"/>
<rect x="968" y="73" width="1" height="29" fill="#FF0000"/>
<rect x="967" y="78" width="3" height="21" fill="#FF0000"/>
<rect x="972" y="48" width="1" height="31" fill="#FF0000"/>
<rect x="971" y="51" width="3" height="27" fill="#FF0000"/>
<rect x="976" y="49" width="1" height="22" fill="#00FA72"/>
<rect x="975" y="51" width="3" height="16" fill="#00FA72"/>
<rect x="980" y="66" width="1" height="32" fill="#00FA72"/>
<rect x="979" y="66" width="3" height="30" fill="#00FA72"/>
<rect x="984" y="90" width="1" height="29" fill="#00FA72"/>
<rect x="983" y="95" width="3" height="7" fill="#00FA72"/>
<rect x="988" y="90" width="1" height="53" fill="#00FA72"/>
<rect x="987" y="101" width="3" height="35" fill="#00FA72"/>
<rect x="992" y="108" width="1" height="24" fill="#FF0000"/>
<rect x="991" y="122" width="3" height="9" fill="#FF0000"/>
<rect x="996" y="122" width="1" height="19" fill="#00FA72"/>
<rect x="995" y="122" width="3" height="7" fill="#00FA72"/>
<rect x="1000" y="126" width="1" height="26" fill="#00FA72"/>
<rect x="999" y="129" width="3" height="19" fill="#00FA72"/>
<rect x="1004" y="142" width="1" height="43" fill="#00FA72"/>
<rect x="1003" y="147" width="3" height="29" fill="#00FA72"/>
<rect x="1008" y="170" width="1" height="35" fill="#00FA72"/>
<rect x="1007" y="174" width="3" height="20" fill="#00FA72"/>
<rect x="1012" y="167" width="1" height="26" fill="#FF0000"/>
<rect x="1011" y="174" width="3" height="12" fill="#FF0000"/>
<rect x="1016" y="142" width="1" height="34" fill="#FF0000"/>
<rect x="1015" y="154" width="3" height="21" fill="#FF0000"/>
<rect x="1020" y="149" width="1" height="17" fill="#FF0000"/>
<rect x="1019" y="152" width="3" height="4" fill="#FF0000"/>
<rect x="1024" y="132" width="1" height="21" fill="#FF0000"/>
<rect x="1023" y="134" width="3" height="19" fill="#FF0000"/>
<rect x="1028" y="110" width="1" height="52" fill="#FF0000"/>
<rect x="1027" y="124" width="3" height="15" fill="#FF0000"/>
<rect x="1032" y="114" width="1" height="28" fill="#FF0000"/>
<rect x="1031" y="132" width="3" height="4" fill="#FF0000"/>
<rect x="1036" y="123" width="1" height="17" fill="#00FA72"/>
<rect x="1035" y="131" width="3" height="5" fill="#00FA72"/>
<rect x="1040" y="106" width="1" height="31" fill="#FF0000"/>
<rect x="1039" y="115" width="3" height="21" fill="#FF0000"/>
<rect x="1044" y="106" width="1" height="17" fill="#00FA72"/>
<rect x="1043" y="115" width="3" height="3" fill="#00FA72"/>
<rect x="1048" y="90" width="1" height="34" fill="#FF0000"/>
<rect x="1047" y="95" width="3" height="22" fill="#FF0000"/>
<rect x="1052" y="91" width="1" height="25" fill="#FF0000"/>
<rect x="1051" y="99" width="3" height="5" fill="#FF0000"/>
<rect x="1056" y="85" width="1" height="22" fill="#FF0000"/>
<rect x="1055" y="95" width="3" height="4" fill="#FF0000"/>
<rect x="1060" y="83" width="1" height="16" fill="#00FA72"/>
<rect x="1059" y="95" width="3" height="2" fill="#00FA72"/>
<rect x="1064" y="93" width="1" height="23" fill="#00FA72"/>
<rect x="1063" y="96" width="3" height="16" fill="#00FA72"/>
<rect x="1068" y="110" width="1" height="23" fill="#00FA72"/>
<rect x="1067" y="113" width="3" height="19" fill="#00FA72"/>
<rect x="1072" y="101" width="1" height="19" fill="#FF0000"/>
<rect x="1071" y="106" width="3" height="10" fill="#FF0000"/>
<rect x="1076" y="75" width="1" height="47" fill="#FF0000"/>
<rect x="1075" y="82" width="3" height="25" fill="#FF0000"/>
<rect x="1080" y="74" width="1" height="42" fill="#00FA72"/>
<rect x="1079" y="81" width="3" height="5" fill="#00FA72"/>
<rect x="1084" y="85" width="1" height="56" fill="#00FA72"/>
<rect x="1083" y="85" width="3" height="51" fill="#00FA72"/>
<rect x="1088" y="131" width="1" height="33" fill="#00FA72"/>
<rect x="1087" y="135" width="3" height="27" fill="#00FA72"/>
<rect x="1092" y="144" width="1" height="43" fill="#00FA72"/>
<rect x="1091" y="163" width="3" height="5" fill="#00FA72"/>
<rect x="1096" y="150" width="1" height="26" fill="#FF0000"/>
<rect x="1095" y="153" width="3" height="15" fill="#FF0000"/>
<rect x="1100" y="127" width="1" height="27" fill="#FF0000"/>
<rect x="1099" y="138" width="3" height="16" fill="#FF0000"/>
<rect x="1104" y="132" width="1" height="39" fill="#00FA72"/>
<rect x="1103" y="138" width="3" height="21" fill="#00FA72"/>
<rect x="1108" y="150" width="1" height="18" fill="#00FA72"/>
<rect x="1107" y="157" width="3" height="7" fill="#00FA72"/>
<rect x="1112" y="164" width="1" height="11" fill="#00FA72"/>
<rect x="1111" y="165" width="3" height="2" fill="#00FA72"/>
<rect x="1116" y="156" width="1" height="16" fill="#FF0000"/>
<rect x="1115" y="163" width="3" height="4" fill="#FF0000"/>
<rect x="1120" y="152" width="1" height="25" fill="#00FA72"/>
<rect x="1119" y="163" width="3" height="11" fill="#00FA72"/>
<rect x="1124" y="163" width="1" height="22" fill="#FF0000"/>
<rect x="1123" y="164" width="3" height="10" fill="#FF0000"/>
<rect x="1128" y="163" width="1" height="23" fill="#00FA72"/>
<rect x="1127" y="164" width="3" height="21" fill="#00FA72"/>
<rect x="1132" y="171" width="1" height="17" fill="#FF0000"/>
<rect x="1131" y="173" width="3" height="15" fill="#FF0000"/>
<rect x="1136" y="173" width="1" height="7" fill="#00FA72"/>
<rect x="1135" y="173" width="3" height="7" fill="#00FA72"/>
</g>
<polyline points="4.5,371.2 8.5,368.5 12.5,367.3 16.5,364.8 20.5,363.5 24.5,360.7 28.5,359.1 32.5,356.6 36.5,354.0 40.5,351.2 44.5,348.7 48.5,347.7 52.5,345.6 56.5,342.7 60.5,341.0 64.5,337.4 68.5,333.7 72.5,329.3 76.5,325.6 80.5,321.2 84.5,317.4 88.5,314.5 92.5,311.5 96.5,307.1 100.5,303.2 104.5,298.8 108.5,297.7 112.5,297.7 116.5,297.0 120.5,297.2 124.5,296.8 128.5,296.5 132.5,293.6 136.5,291.7 140.5,290.7 144.5,289.2 148.5,289.2 152.5,290.4 156.5,290.7 160.5,290.6 164.5,291.2 168.5,292.1 172.5,292.4 176.5,292.7 180.5,293.7 184.5,295.2 188.5,297.3 192.5,296.1 196.5,296.9 200.5,299.7 204.5,302.0 208.5,303.9 212.5,306.4 216.5,307.8 220.5,311.2 224.5,314.5 228.5,317.3 232.5,318.6 236.5,319.7 240.5,321.8 244.5,323.7 248.5,325.5 252.5,325.9 256.5,328.1 260.5,330.4 264.5,333.0 268.5,335.9 272.5,338.3 276.5,342.1 280.5,342.4 284.5,341.0 288.5,340.3 292.5,341.0 296.5,342.7 300.5,345.6 304.5,349.3 308.5,353.0 312.5,358.5 316.5,364.9 320.5,370.7 324.5,376.5 328.5,382.3 332.5,386.1 336.5,391.4 340.5,395.3 344.5,400.0 348.5,404.3 352.5,409.9 356.5,415.6 360.5,421.0 364.5,428.3 368.5,436.3 372.5,442.0 376.5,445.9 380.5,449.8 384.5,453.3 388.5,454.3 392.5,454.5 396.5,452.7 400.5,452.1 404.5,451.3 408.5,450.3 412.5,450.3 416.5,451.8 420.5,454.6 424.5,459.1 428.5,462.1 432.5,466.5 436.5,469.7 440.5,473.0 444.5,476.2 448.5,476.7 452.5,476.3 456.5,478.6 460.5,482.0 464.5,484.0 468.5,486.0 472.5,488.6 476.5,491.1 480.5,495.2 484.5,498.3 488.5,501.2 492.5,504.4 496.5,506.7 500.5,509.3 504.5,511.9 508.5,512.1 512.5,512.1 516.5,511.6 520.5,509.8 524.5,507.4 528.5,504.7 532.5,503.4 536.5,503.2 540.5,502.3 544.5,501.9 548.5,501.8 552.5,502.9 556.5,503.4 560.5,503.9 564.5,503.5 568.5,502.4 572.5,503.1 576.5,503.4 580.5,503.7 584.5,505.4 588.5,504.3 592.5,504.1 596.5,504.1 600.5,503.1 604.5,501.9 608.5,501.9 612.5,501.7 616.5,501.1 620.5,500.6 624.5,499.6 628.5,498.5 632.5,495.3 636.5,491.3 640.5,487.4 644.5,481.9 648.5,475.9 652.5,467.3 656.5,458.4 660.5,449.2 664.5,439.3 668.5,427.3 672.5,417.0 676.5,407.3 680.5,397.8 684.5,389.1 688.5,381.6 692.5,373.8 696.5,365.6 700.5,356.9 704.5,347.6 708.5,339.2 712.5,331.1 716.5,324.9 720.5,318.9 724.5,313.2 728.5,308.4 732.5,304.1 736.5,303.6 740.5,302.5 744.5,301.3 748.5,301.2 752.5,301.7 756.5,303.4 760.5,305.0 764.5,308.4 768.5,311.1 772.5,312.8 776.5,313.8 780.5,315.4 784.5,318.0 788.5,321.0 792.5,324.4 796.5,325.9 800.5,327.8 804.5,330.3 808.5,331.8 812.5,334.4 816.5,336.6 820.5,339.1 824.5,341.5 828.5,343.8 832.5,346.6 836.5,349.1 840.5,349.9 844.5,350.7 848.5,349.7 852.5,348.9 856.5,348.5 860.5,349.1 864.5,349.6 868.5,349.2 872.5,348.1 876.5,346.7 880.5,345.5 884.5,341.4 888.5,336.7 892.5,326.0 896.5,318.6 900.5,310.0 904.5,300.4 908.5,290.5 912.5,280.7 916.5,274.2 920.5,266.6 924.5,259.0 928.5,251.4 932.5,242.8 936.5,234.3 940.5,226.0 944.5,216.3 948.5,204.3 952.5,191.4 956.5,179.1 960.5,166.4 964.5,155.9 968.5,147.2 972.5,137.4 976.5,135.4 980.5,131.2 984.5,128.7 988.5,127.8 992.5,126.8 996.5,126.2 1000.5,122.8 1004.5,122.3 1008.5,122.4 1012.5,121.5 1016.5,121.0 1020.5,120.3 1024.5,118.5 1028.5,117.3 1032.5,118.6 1036.5,121.5 1040.5,123.3 1044.5,125.4 1048.5,125.2 1052.5,126.3 1056.5,128.4 1060.5,129.8 1064.5,130.6 1068.5,132.1 1072.5,130.6 1076.5,128.8 1080.5,126.7 1084.5,126.1 1088.5,125.5 1092.5,124.2 1096.5,123.3 1100.5,122.5 1104.5,122.9 1108.5,124.3 1112.5,126.4 1116.5,127.9 1120.5,129.7 1124.5,132.0 1128.5,135.2 1132.5,138.9 1136.5,142.8" fill="none" stroke="#FFFF00" stroke-width="1" shape-rendering="crispEdges"/>
<polyline points="4.5,365.0 8.5,363.5 12.5,361.9 16.5,361.1 20.5,359.6 24.5,358.1 28.5,355.7 32.5,353.9 36.5,348.9 40.5,345.7 44.5,339.7 48.5,338.2 52.5,332.8 56.5,329.0 60.5,327.4 64.5,324.6 68.5,319.8 72.5,316.3 76.5,312.1 80.5,309.3 84.5,305.6 88.5,301.8 92.5,299.9 96.5,295.6 100.5,292.8 104.5,286.2 108.5,286.3 112.5,288.2 116.5,287.9 120.5,288.6 124.5,290.3 128.5,290.4 132.5,290.2 136.5,288.6 140.5,288.8 144.5,289.5 148.5,291.1 152.5,294.9 156.5,297.5 160.5,299.9 164.5,299.5 168.5,297.1 172.5,294.9 176.5,293.1 180.5,291.0 184.5,290.9 188.5,291.7 192.5,292.8 196.5,297.6 200.5,303.6 204.5,307.8 208.5,310.5 212.5,314.0 216.5,316.0 220.5,318.5 224.5,322.5 228.5,326.9 232.5,330.1 236.5,333.9 240.5,337.3 244.5,339.6 248.5,343.7 252.5,340.7 256.5,337.5 260.5,335.6 264.5,334.6 268.5,335.2 272.5,337.5 276.5,339.1 280.5,339.3 284.5,339.1 288.5,340.3 292.5,342.5 296.5,345.4 300.5,348.7 304.5,354.2 308.5,363.1 312.5,372.6 316.5,381.9 320.5,390.4 324.5,398.3 328.5,405.6 332.5,409.8 336.5,414.1 340.5,419.0 344.5,425.2 348.5,429.6 352.5,436.0 356.5,442.6 360.5,446.7 364.5,452.3 368.5,455.8 372.5,456.0 376.5,455.3 380.5,455.3 384.5,455.2 388.5,456.4 392.5,457.7 396.5,458.8 400.5,460.1 404.5,460.9 408.5,458.8 412.5,457.6 416.5,455.9 420.5,453.6 424.5,453.2 428.5,455.3 432.5,460.6 436.5,465.8 440.5,472.1 444.5,479.6 448.5,485.6 452.5,491.2 456.5,495.7 460.5,501.3 464.5,505.9 468.5,508.7 472.5,511.7 476.5,512.5 480.5,512.8 484.5,514.3 488.5,512.9 492.5,510.9 496.5,508.2 500.5,505.6 504.5,506.4 508.5,506.9 512.5,505.5 516.5,504.9 520.5,504.5 524.5,504.2 528.5,503.8 532.5,504.1 536.5,503.2 540.5,501.7 544.5,502.3 548.5,502.1 552.5,503.1 556.5,502.8 560.5,500.5 564.5,499.9 568.5,499.8 572.5,500.2 576.5,501.2 580.5,502.7 584.5,506.6 588.5,507.8 592.5,508.3 596.5,508.2 600.5,506.8 604.5,504.6 608.5,502.6 612.5,501.2 616.5,499.9 620.5,498.9 624.5,497.5 628.5,495.4 632.5,489.9 636.5,484.4 640.5,475.8 644.5,466.8 648.5,457.6 652.5,444.6 656.5,433.1 660.5,422.2 664.5,408.9 668.5,395.0 672.5,381.6 676.5,368.3 680.5,355.5 684.5,342.7 688.5,334.1 692.5,326.5 696.5,318.6 700.5,312.4 704.5,306.5 708.5,305.4 712.5,304.5 716.5,303.4 720.5,303.7 724.5,304.7 728.5,304.0 732.5,302.8 736.5,303.4 740.5,303.2 744.5,301.9 748.5,300.0 752.5,299.1 756.5,301.4 760.5,304.4 764.5,309.2 768.5,312.8 772.5,316.0 776.5,318.8 780.5,321.9 784.5,326.8 788.5,331.9 792.5,336.6 796.5,339.6 800.5,343.1 804.5,347.3 808.5,349.9 812.5,350.4 816.5,350.3 820.5,349.5 824.5,348.7 828.5,348.4 832.5,349.2 836.5,349.5 840.5,349.2 844.5,348.8 848.5,347.2 852.5,347.2 856.5,347.1 860.5,347.0 864.5,348.6 868.5,349.0 872.5,349.1 876.5,347.9 880.5,345.6 884.5,339.4 888.5,332.4 892.5,315.4 896.5,303.5 900.5,289.2 904.5,275.6 908.5,261.2 912.5,246.7 916.5,237.0 920.5,225.0 924.5,213.9 928.5,203.7 932.5,191.3 936.5,180.4 940.5,174.0 944.5,166.4 948.5,166.0 952.5,158.2 956.5,152.8 960.5,146.9 964.5,143.7 968.5,139.2 972.5,127.2 976.5,118.5 980.5,111.8 984.5,105.3 988.5,103.1 992.5,99.9 996.5,96.9 1000.5,96.9 1004.5,101.9 1008.5,110.4 1012.5,117.3 1016.5,123.1 1020.5,126.9 1024.5,130.9 1028.5,136.1 1032.5,140.8 1036.5,143.7 1040.5,144.6 1044.5,143.3 1048.5,141.4 1052.5,139.3 1056.5,135.5 1060.5,129.9 1064.5,124.1 1068.5,121.1 1072.5,117.6 1076.5,112.7 1080.5,109.3 1084.5,110.1 1088.5,112.3 1092.5,114.6 1096.5,117.3 1100.5,118.8 1104.5,123.3 1108.5,128.0 1112.5,133.1 1116.5,137.8 1120.5,142.2 1124.5,144.5 1128.5,150.1 1132.5,156.6 1136.5,163.4" fill="none" stroke="#FF0000" stroke-width="1" shape-rendering="crispEdges"/>
<polyline points="4.5,368.1 8.5,363.1 12.5,361.5 16.5,355.4 20.5,352.5 24.5,345.0 28.5,341.2 32.5,339.8 36.5,334.8 40.5,329.9 44.5,324.0 48.5,323.9 52.5,320.6 56.5,316.8 60.5,315.1 64.5,314.4 68.5,309.8 72.5,308.6 76.5,300.4 80.5,298.0 84.5,294.3 88.5,288.6 92.5,285.4 96.5,281.5 100.5,277.0 104.5,272.1 108.5,274.6 112.5,282.1 116.5,287.3 120.5,291.9 124.5,299.2 128.5,303.9 132.5,308.4 136.5,302.6 140.5,295.6 144.5,291.7 148.5,290.4 152.5,290.6 156.5,291.1 160.5,291.4 164.5,296.5 168.5,298.6 172.5,298.1 176.5,295.7 180.5,291.3 184.5,290.8 188.5,292.0 192.5,289.1 196.5,296.5 200.5,309.2 204.5,319.9 208.5,329.7 212.5,337.2 216.5,339.9 220.5,347.9 224.5,348.5 228.5,344.7 232.5,340.3 236.5,338.0 240.5,337.5 244.5,339.3 248.5,339.5 252.5,332.8 256.5,330.3 260.5,330.9 264.5,331.2 268.5,332.9 272.5,335.7 276.5,338.7 280.5,345.9 284.5,347.8 288.5,349.7 292.5,353.7 296.5,357.8 300.5,361.7 304.5,369.7 308.5,380.3 312.5,397.4 316.5,414.2 320.5,427.0 324.5,438.8 328.5,449.4 332.5,449.9 336.5,448.0 340.5,440.6 344.5,436.2 348.5,432.3 352.5,433.1 356.5,435.7 360.5,443.5 364.5,456.6 368.5,470.9 372.5,475.8 376.5,478.3 380.5,477.4 384.5,474.8 388.5,469.4 392.5,458.9 396.5,446.6 400.5,444.4 404.5,443.4 408.5,440.2 412.5,440.5 416.5,442.4 420.5,448.3 424.5,459.8 428.5,466.3 432.5,477.8 436.5,491.3 440.5,503.7 444.5,516.8 448.5,522.9 452.5,522.6 456.5,525.1 460.5,524.8 464.5,520.5 468.5,513.8 472.5,506.6 476.5,502.0 480.5,503.1 484.5,503.5 488.5,501.0 492.5,501.3 496.5,502.6 500.5,504.6 504.5,510.7 508.5,510.7 512.5,507.6 516.5,508.9 520.5,507.8 524.5,505.8 528.5,502.9 532.5,497.5 536.5,495.7 540.5,495.7 544.5,495.7 548.5,496.4 552.5,500.4 556.5,502.8 560.5,503.5 564.5,504.0 568.5,503.9 572.5,504.6 576.5,506.0 580.5,505.1 584.5,510.5 588.5,512.1 592.5,512.6 596.5,512.6 600.5,508.9 604.5,503.2 608.5,500.2 612.5,491.9 616.5,487.7 620.5,485.3 624.5,482.4 628.5,481.9 632.5,476.5 636.5,468.5 640.5,459.7 644.5,445.9 648.5,429.9 652.5,406.9 656.5,384.3 660.5,368.0 664.5,349.3 668.5,330.3 672.5,317.4 676.5,306.6 680.5,304.1 684.5,301.2 688.5,300.2 692.5,303.7 696.5,306.8 700.5,307.5 704.5,306.3 708.5,306.8 712.5,307.9 716.5,306.5 720.5,303.6 724.5,302.5 728.5,300.4 732.5,299.3 736.5,300.0 740.5,298.5 744.5,297.3 748.5,296.3 752.5,295.6 756.5,302.3 760.5,309.4 764.5,318.4 768.5,327.0 772.5,334.7 776.5,341.4 780.5,348.2 784.5,351.3 788.5,354.4 792.5,354.7 796.5,352.2 800.5,351.4 804.5,353.2 808.5,351.7 812.5,349.5 816.5,346.1 820.5,344.3 824.5,345.1 828.5,345.4 832.5,345.3 836.5,347.4 840.5,348.8 844.5,351.5 848.5,350.1 852.5,349.2 856.5,348.7 860.5,348.8 864.5,349.9 868.5,349.2 872.5,346.7 876.5,345.7 880.5,342.0 884.5,330.1 888.5,316.0 892.5,280.9 896.5,257.8 900.5,231.7 904.5,205.5 908.5,180.4 912.5,163.3 916.5,157.9 920.5,169.1 924.5,170.0 928.5,175.7 932.5,177.1 936.5,180.4 940.5,184.7 944.5,174.8 948.5,163.0 952.5,146.4 956.5,129.8 960.5,116.7 964.5,107.0 968.5,93.6 972.5,79.6 976.5,74.1 980.5,77.1 984.5,80.7 988.5,89.6 992.5,92.9 996.5,100.2 1000.5,114.1 1004.5,129.7 1008.5,143.7 1012.5,154.0 1016.5,156.6 1020.5,161.0 1024.5,161.7 1028.5,158.2 1032.5,151.9 1036.5,143.6 1040.5,135.2 1044.5,130.0 1048.5,121.9 1052.5,117.0 1056.5,112.9 1060.5,107.9 1064.5,104.6 1068.5,107.0 1072.5,105.3 1076.5,103.4 1080.5,101.5 1084.5,107.3 1088.5,116.7 1092.5,124.6 1096.5,127.6 1100.5,132.2 1104.5,143.2 1108.5,154.5 1112.5,158.9 1116.5,159.0 1120.5,159.8 1124.5,161.4 1128.5,168.0 1132.5,170.0 1136.5,172.3" fill="none" stroke="#0000D0" stroke-width="1" shape-rendering="crispEdges"/>
<g shape-rendering="crispEdges"><rect x="4" y="41" width="1415" height="3" fill="#FF0000"/><rect x="3" y="39" width="7" height="7" fill="#FF0000"/><rect x="6" y="42" width="1" height="1" fill="#fff"/><rect x="1413" y="39" width="7" height="7" fill="#FF0000"/><rect x="1416" y="42" width="1" height="1" fill="#fff"/></g>
<g shape-rendering="crispEdges"><rect x="4" y="136" width="1415" height="3" fill="#FF0000"/><rect x="3" y="134" width="7" height="7" fill="#FF0000"/><rect x="6" y="137" width="1" height="1" fill="#fff"/><rect x="1413" y="134" width="7" height="7" fill="#FF0000"/><rect x="1416" y="137" width="1" height="1" fill="#fff"/></g>
<g shape-rendering="crispEdges"><rect x="4" y="231" width="1415" height="3" fill="#00FF00"/><rect x="3" y="229" width="7" height="7" fill="#00FF00"/><rect x="6" y="232" width="1" height="1" fill="#fff"/><rect x="1413" y="229" width="7" height="7" fill="#00FF00"/><rect x="1416" y="232" width="1" height="1" fill="#fff"/></g>
<g shape-rendering="crispEdges"><rect x="4" y="326" width="1415" height="3" fill="#0000FF"/><rect x="3" y="324" width="7" height="7" fill="#0000FF"/><rect x="6" y="327" width="1" height="1" fill="#fff"/><rect x="1413" y="324" width="7" height="7" fill="#0000FF"/><rect x="1416" y="327" width="1" height="1" fill="#fff"/></g>
<g shape-rendering="crispEdges"><rect x="4" y="402" width="1415" height="3" fill="#0000FF"/></g>
<g shape-rendering="crispEdges">
<rect x="4" y="615" width="1" height="12" fill="#c0c0c0"/>
<rect x="8" y="613" width="1" height="14" fill="#c0c0c0"/>
<rect x="12" y="613" width="1" height="14" fill="#c0c0c0"/>
<rect x="16" y="613" width="1" height="14" fill="#c0c0c0"/>
<rect x="20" y="613" width="1" height="14" fill="#c0c0c0"/>
<rect x="24" y="612" width="1" height="15" fill="#c0c0c0"/>
<rect x="28" y="611" width="1" height="16" fill="#c0c0c0"/>
<rect x="32" y="611" width="1" height="16" fill="#c0c0c0"/>
<rect x="36" y="609" width="1" height="18" fill="#c0c0c0"/>
<rect x="40" y="608" width="1" height="19" fill="#c0c0c0"/>
<rect x="44" y="606" width="1" height="21" fill="#c0c0c0"/>
<rect x="48" y="609" width="1" height="18" fill="#c0c0c0"/>
<rect x="52" y="608" width="1" height="19" fill="#c0c0c0"/>
<rect x="56" y="608" width="1" height="19" fill="#c0c0c0"/>
<rect x="60" y="608" width="1" height="19" fill="#c0c0c0"/>
<rect x="64" y="608" width="1" height="19" fill="#c0c0c0"/>
<rect x="68" y="606" width="1" height="21" fill="#c0c0c0"/>
<rect x="72" y="605" width="1" height="22" fill="#c0c0c0"/>
<rect x="76" y="605" width="1" height="22" fill="#c0c0c0"/>
<rect x="80" y="605" width="1" height="22" fill="#c0c0c0"/>
<rect x="84" y="605" width="1" height="22" fill="#c0c0c0"/>
<rect x="88" y="604" width="1" height="23" fill="#c0c0c0"/>
<rect x="92" y="604" width="1" height="23" fill="#c0c0c0"/>
<rect x="96" y="603" width="1" height="24" fill="#c0c0c0"/>
<rect x="100" y="602" width="1" height="25" fill="#c0c0c0"/>
<rect x="104" y="601" width="1" height="26" fill="#c0c0c0"/>
<rect x="108" y="605" width="1" height="22" fill="#c0c0c0"/>
<rect x="112" y="611" width="1" height="16" fill="#c0c0c0"/>
<rect x="116" y="614" width="1" height="13" fill="#c0c0c0"/>
<rect x="120" y="616" width="1" height="11" fill="#c0c0c0"/>
<rect x="124" y="618" width="1" height="9" fill="#c0c0c0"/>
<rect x="128" y="618" width="1" height="9" fill="#c0c0c0"/>
<rect x="132" y="617" width="1" height="10" fill="#c0c0c0"/>
<rect x="136" y="616" width="1" height="11" fill="#c0c0c0"/>
<rect x="140" y="616" width="1" height="11" fill="#c0c0c0"/>
<rect x="144" y="616" width="1" height="11" fill="#c0c0c0"/>
<rect x="148" y="618" width="1" height="9" fill="#c0c0c0"/>
<rect x="152" y="620" width="1" height="7" fill="#c0c0c0"/>
<rect x="156" y="621" width="1" height="6" fill="#c0c0c0"/>
<rect x="160" y="620" width="1" height="7" fill="#c0c0c0"/>
<rect x="164" y="622" width="1" height="5" fill="#c0c0c0"/>
<rect x="168" y="622" width="1" height="5" fill="#c0c0c0"/>
<rect x="172" y="622" width="1" height="5" fill="#c0c0c0"/>
<rect x="176" y="621" width="1" height="6" fill="#c0c0c0"/>
<rect x="180" y="620" width="1" height="7" fill="#c0c0c0"/>
<rect x="184" y="621" width="1" height="6" fill="#c0c0c0"/>
<rect x="188" y="622" width="1" height="5" fill="#c0c0c0"/>
<rect x="192" y="621" width="1" height="6" fill="#c0c0c0"/>
<rect x="196" y="626" width="1" height="2" fill="#c0c0c0"/>
<rect x="200" y="626" width="1" height="8" fill="#c0c0c0"/>
<rect x="204" y="626" width="1" height="12" fill="#c0c0c0"/>
<rect x="208" y="626" width="1" height="13" fill="#c0c0c0"/>
<rect x="212" y="626" width="1" height="14" fill="#c0c0c0"/>
<rect x="216" y="626" width="1" height="12" fill="#c0c0c0"/>
<rect x="220" y="626" width="1" height="13" fill="#c0c0c0"/>
<rect x="224" y="626" width="1" height="14" fill="#c0c0c0"/>
<rect x="228" y="626" width="1" height="15" fill="#c0c0c0"/>
<rect x="232" y="626" width="1" height="13" fill="#c0c0c0"/>
<rect x="236" y="626" width="1" height="12" fill="#c0c0c0"/>
<rect x="240" y="626" width="1" height="12" fill="#c0c0c0"/>
<rect x="244" y="626" width="1" height="11" fill="#c0c0c0"/>
<rect x="248" y="626" width="1" height="11" fill="#c0c0c0"/>
<rect x="252" y="626" width="1" height="8" fill="#c0c0c0"/>
<rect x="256" y="626" width="1" height="7" fill="#c0c0c0"/>
<rect x="260" y="626" width="1" height="7" fill="#c0c0c0"/>
<rect x="264" y="626" width="1" height="7" fill="#c0c0c0"/>
<rect x="268" y="626" width="1" height="8" fill="#c0c0c0"/>
<rect x="272" y="626" width="1" height="9" fill="#c0c0c0"/>
<rect x="276" y="626" width="1" height="10" fill="#c0c0c0"/>
<rect x="280" y="626" width="1" height="11" fill="#c0c0c0"/>
<rect x="284" y="626" width="1" height="11" fill="#c0c0c0"/>
<rect x="288" y="626" width="1" height="10" fill="#c0c0c0"/>
<rect x="292" y="626" width="1" height="11" fill="#c0c0c0"/>
<rect x="296" y="626" width="1" height="13" fill="#c0c0c0"/>
<rect x="300" y="626" width="1" height="14" fill="#c0c0c0"/>
<rect x="304" y="626" width="1" height="18" fill="#c0c0c0"/>
<rect x="308" y="626" width="1" height="23" fill="#c0c0c0"/>
<rect x="312" y="626" width="1" height="29" fill="#c0c0c0"/>
<rect x="316" y="626" width="1" height="33" fill="#c0c0c0"/>
<rect x="320" y="626" width="1" height="35" fill="#c0c0c0"/>
<rect x="324" y="626" width="1" height="37" fill="#c0c0c0"/>
<rect x="328" y="626" width="1" height="37" fill="#c0c0c0"/>
<rect x="332" y="626" width="1" height="34" fill="#c0c0c0"/>
<rect x="336" y="626" width="1" height="32" fill="#c0c0c0"/>
<rect x="340" y="626" width="1" height="29" fill="#c0c0c0"/>
<rect x="344" y="626" width="1" height="28" fill="#c0c0c0"/>
<rect x="348" y="626" width="1" height="26" fill="#c0c0c0"/>
<rect x="352" y="626" width="1" height="28" fill="#c0c0c0"/>
<rect x="356" y="626" width="1" height="29" fill="#c0c0c0"/>
<rect x="360" y="626" width="1" height="31" fill="#c0c0c0"/>
<rect x="364" y="626" width="1" height="34" fill="#c0c0c0"/>
<rect x="368" y="626" width="1" height="37" fill="#c0c0c0"/>
<rect x="372" y="626" width="1" height="35" fill="#c0c0c0"/>
<rect x="376" y="626" width="1" height="31" fill="#c0c0c0"/>
<rect x="380" y="626" width="1" height="29" fill="#c0c0c0"/>
<rect x="384" y="626" width="1" height="26" fill="#c0c0c0"/>
<rect x="388" y="626" width="1" height="22" fill="#c0c0c0"/>
<rect x="392" y="626" width="1" height="19" fill="#c0c0c0"/>
<rect x="396" y="626" width="1" height="16" fill="#c0c0c0"/>
<rect x="400" y="626" width="1" height="15" fill="#c0c0c0"/>
<rect x="404" y="626" width="1" height="13" fill="#c0c0c0"/>
<rect x="408" y="626" width="1" height="11" fill="#c0c0c0"/>
<rect x="412" y="626" width="1" height="11" fill="#c0c0c0"/>
<rect x="416" y="626" width="1" height="11" fill="#c0c0c0"/>
<rect x="420" y="626" width="1" height="13" fill="#c0c0c0"/>
<rect x="424" y="626" width="1" height="16" fill="#c0c0c0"/>
<rect x="428" y="626" width="1" height="18" fill="#c0c0c0"/>
<rect x="432" y="626" width="1" height="21" fill="#c0c0c0"/>
<rect x="436" y="626" width="1" height="25" fill="#c0c0c0"/>
<rect x="440" y="626" width="1" height="28" fill="#c0c0c0"/>
<rect x="444" y="626" width="1" height="30" fill="#c0c0c0"/>
<rect x="448" y="626" width="1" height="30" fill="#c0c0c0"/>
<rect x="452" y="626" width="1" height="28" fill="#c0c0c0"/>
<rect x="456" y="626" width="1" height="27" fill="#c0c0c0"/>
<rect x="460" y="626" width="1" height="26" fill="#c0c0c0"/>
<rect x="464" y="626" width="1" height="24" fill="#c0c0c0"/>
<rect x="468" y="626" width="1" height="21" fill="#c0c0c0"/>
<rect x="472" y="626" width="1" height="18" fill="#c0c0c0"/>
<rect x="476" y="626" width="1" height="16" fill="#c0c0c0"/>
<rect x="480" y="626" width="1" height="16" fill="#c0c0c0"/>
<rect x="484" y="626" width="1" height="16" fill="#c0c0c0"/>
<rect x="488" y="626" width="1" height="15" fill="#c0c0c0"/>
<rect x="492" y="626" width="1" height="14" fill="#c0c0c0"/>
<rect x="496" y="626" width="1" height="13" fill="#c0c0c0"/>
<rect x="500" y="626" width="1" height="12" fill="#c0c0c0"/>
<rect x="504" y="626" width="1" height="14" fill="#c0c0c0"/>
<rect x="508" y="626" width="1" height="13" fill="#c0c0c0"/>
<rect x="512" y="626" width="1" height="11" fill="#c0c0c0"/>
<rect x="516" y="626" width="1" height="10" fill="#c0c0c0"/>
<rect x="520" y="626" width="1" height="9" fill="#c0c0c0"/>
<rect x="524" y="626" width="1" height="7" fill="#c0c0c0"/>
<rect x="528" y="626" width="1" height="5" fill="#c0c0c0"/>
<rect x="532" y="626" width="1" height="4" fill="#c0c0c0"/>
<rect x="536" y="626" width="1" height="4" fill="#c0c0c0"/>
<rect x="540" y="626" width="1" height="3" fill="#c0c0c0"/>
<rect x="544" y="626" width="1" height="4" fill="#c0c0c0"/>
<rect x="548" y="626" width="1" height="4" fill="#c0c0c0"/>
<rect x="552" y="626" width="1" height="5" fill="#c0c0c0"/>
<rect x="556" y="626" width="1" height="5" fill="#c0c0c0"/>
<rect x="560" y="626" width="1" height="4" fill="#c0c0c0"/>
<rect x="564" y="626" width="1" height="4" fill="#c0c0c0"/>
<rect x="568" y="626" width="1" height="3" fill="#c0c0c0"/>
<rect x="572" y="626" width="1" height="4" fill="#c0c0c0"/>
<rect x="576" y="626" width="1" height="5" fill="#c0c0c0"/>
<rect x="580" y="626" width="1" height="5" fill="#c0c0c0"/>
<rect x="584" y="626" width="1" height="7" fill="#c0c0c0"/>
<rect x="588" y="626" width="1" height="7" fill="#c0c0c0"/>
<rect x="592" y="626" width="1" height="6" fill="#c0c0c0"/>
<rect x="596" y="626" width="1" height="5" fill="#c0c0c0"/>
<rect x="600" y="626" width="1" height="3" fill="#c0c0c0"/>
<rect x="604" y="625" width="1" height="2" fill="#c0c0c0"/>
<rect x="608" y="624" width="1" height="3" fill="#c0c0c0"/>
<rect x="612" y="623" width="1" height="4" fill="#c0c0c0"/>
<rect x="616" y="622" width="1" height="5" fill="#c0c0c0"/>
<rect x="620" y="622" width="1" height="5" fill="#c0c0c0"/>
<rect x="624" y="621" width="1" height="6" fill="#c0c0c0"/>
<rect x="628" y="620" width="1" height="7" fill="#c0c0c0"/>
<rect x="632" y="617" width="1" height="10" fill="#c0c0c0"/>
<rect x="636" y="613" width="1" height="14" fill="#c0c0c0"/>
<rect x="640" y="609" width="1" height="18" fill="#c0c0c0"/>
<rect x="644" y="604" width="1" height="23" fill="#c0c0c0"/>
<rect x="648" y="599" width="1" height="28" fill="#c0c0c0"/>
<rect x="652" y="591" width="1" height="36" fill="#c0c0c0"/>
<rect x="656" y="585" width="1" height="42" fill="#c0c0c0"/>
<rect x="660" y="581" width="1" height="46" fill="#c0c0c0"/>
<rect x="664" y="576" width="1" height="51" fill="#c0c0c0"/>
<rect x="668" y="572" width="1" height="55" fill="#c0c0c0"/>
<rect x="672" y="570" width="1" height="57" fill="#c0c0c0"/>
<rect x="676" y="570" width="1" height="57" fill="#c0c0c0"/>
<rect x="680" y="570" width="1" height="57" fill="#c0c0c0"/>
<rect x="684" y="571" width="1" height="56" fill="#c0c0c0"/>
<rect x="688" y="574" width="1" height="53" fill="#c0c0c0"/>
<rect x="692" y="577" width="1" height="50" fill="#c0c0c0"/>
<rect x="696" y="579" width="1" height="48" fill="#c0c0c0"/>
<rect x="700" y="580" width="1" height="47" fill="#c0c0c0"/>
<rect x="704" y="581" width="1" height="46" fill="#c0c0c0"/>
<rect x="708" y="583" width="1" height="44" fill="#c0c0c0"/>
<rect x="712" y="586" width="1" height="41" fill="#c0c0c0"/>
<rect x="716" y="588" width="1" height="39" fill="#c0c0c0"/>
<rect x="720" y="590" width="1" height="37" fill="#c0c0c0"/>
<rect x="724" y="592" width="1" height="35" fill="#c0c0c0"/>
<rect x="728" y="593" width="1" height="34" fill="#c0c0c0"/>
<rect x="732" y="593" width="1" height="34" fill="#c0c0c0"/>
<rect x="736" y="596" width="1" height="31" fill="#c0c0c0"/>
<rect x="740" y="598" width="1" height="29" fill="#c0c0c0"/>
<rect x="744" y="600" width="1" height="27" fill="#c0c0c0"/>
<rect x="748" y="601" width="1" height="26" fill="#c0c0c0"/>
<rect x="752" y="602" width="1" height="25" fill="#c0c0c0"/>
<rect x="756" y="607" width="1" height="20" fill="#c0c0c0"/>
<rect x="760" y="611" width="1" height="16" fill="#c0c0c0"/>
<rect x="764" y="617" width="1" height="10" fill="#c0c0c0"/>
<rect x="768" y="621" width="1" height="6" fill="#c0c0c0"/>
<rect x="772" y="624" width="1" height="3" fill="#c0c0c0"/>
<rect x="776" y="625" width="1" height="2" fill="#c0c0c0"/>
<rect x="780" y="626" width="1" height="1" fill="#c0c0c0"/>
<rect x="784" y="626" width="1" height="3" fill="#c0c0c0"/>
<rect x="788" y="626" width="1" height="5" fill="#c0c0c0"/>
<rect x="792" y="626" width="1" height="7" fill="#c0c0c0"/>
<rect x="796" y="626" width="1" height="6" fill="#c0c0c0"/>
<rect x="800" y="626" width="1" height="6" fill="#c0c0c0"/>
<rect x="804" y="626" width="1" height="7" fill="#c0c0c0"/>
<rect x="808" y="626" width="1" height="5" fill="#c0c0c0"/>
<rect x="812" y="626" width="1" height="4" fill="#c0c0c0"/>
<rect x="816" y="626" width="1" height="3" fill="#c0c0c0"/>
<rect x="820" y="626" width="1" height="4" fill="#c0c0c0"/>
<rect x="824" y="626" width="1" height="5" fill="#c0c0c0"/>
<rect x="828" y="626" width="1" height="5" fill="#c0c0c0"/>
<rect x="832" y="626" width="1" height="5" fill="#c0c0c0"/>
<rect x="836" y="626" width="1" height="5" fill="#c0c0c0"/>
<rect x="840" y="626" width="1" height="5" fill="#c0c0c0"/>
<rect x="844" y="626" width="1" height="5" fill="#c0c0c0"/>
<rect x="848" y="626" width="1" height="5" fill="#c0c0c0"/>
<rect x="852" y="626" width="1" height="4" fill="#c0c0c0"/>
<rect x="856" y="626" width="1" height="4" fill="#c0c0c0"/>
<rect x="860" y="626" width="1" height="4" fill="#c0c0c0"/>
<rect x="864" y="626" width="1" height="4" fill="#c0c0c0"/>
<rect x="868" y="626" width="1" height="4" fill="#c0c0c0"/>
<rect x="872" y="626" width="1" height="3" fill="#c0c0c0"/>
<rect x="876" y="626" width="1" height="2" fill="#c0c0c0"/>
<rect x="880" y="625" width="1" height="2" fill="#c0c0c0"/>
<rect x="884" y="618" width="1" height="9" fill="#c0c0c0"/>
<rect x="888" y="612" width="1" height="15" fill="#c0c0c0"/>
<rect x="892" y="596" width="1" height="31" fill="#c0c0c0"/>
<rect x="896" y="589" width="1" height="38" fill="#c0c0c0"/>
<rect x="900" y="582" width="1" height="45" fill="#c0c0c0"/>
<rect x="904" y="577" width="1" height="50" fill="#c0c0c0"/>
<rect x="908" y="573" width="1" height="54" fill="#c0c0c0"/>
<rect x="912" y="570" width="1" height="57" fill="#c0c0c0"/>
<rect x="916" y="575" width="1" height="52" fill="#c0c0c0"/>
<rect x="920" y="577" width="1" height="50" fill="#c0c0c0"/>
<rect x="924" y="579" width="1" height="48" fill="#c0c0c0"/>
<rect x="928" y="581" width="1" height="46" fill="#c0c0c0"/>
<rect x="932" y="581" width="1" height="46" fill="#c0c0c0"/>
<rect x="936" y="582" width="1" height="45" fill="#c0c0c0"/>
<rect x="940" y="584" width="1" height="43" fill="#c0c0c0"/>
<rect x="944" y="583" width="1" height="44" fill="#c0c0c0"/>
<rect x="948" y="580" width="1" height="47" fill="#c0c0c0"/>
<rect x="952" y="575" width="1" height="52" fill="#c0c0c0"/>
<rect x="956" y="572" width="1" height="55" fill="#c0c0c0"/>
<rect x="960" y="570" width="1" height="57" fill="#c0c0c0"/>
<rect x="964" y="572" width="1" height="55" fill="#c0c0c0"/>
<rect x="968" y="571" width="1" height="56" fill="#c0c0c0"/>
<rect x="972" y="570" width="1" height="57" fill="#c0c0c0"/>
<rect x="976" y="570" width="1" height="57" fill="#c0c0c0"/>
<rect x="980" y="574" width="1" height="53" fill="#c0c0c0"/>
<rect x="984" y="578" width="1" height="49" fill="#c0c0c0"/>
<rect x="988" y="584" width="1" height="43" fill="#c0c0c0"/>
<rect x="992" y="588" width="1" height="39" fill="#c0c0c0"/>
<rect x="996" y="593" width="1" height="34" fill="#c0c0c0"/>
<rect x="1000" y="598" width="1" height="29" fill="#c0c0c0"/>
<rect x="1004" y="605" width="1" height="22" fill="#c0c0c0"/>
<rect x="1008" y="613" width="1" height="14" fill="#c0c0c0"/>
<rect x="1012" y="617" width="1" height="10" fill="#c0c0c0"/>
<rect x="1016" y="618" width="1" height="9" fill="#c0c0c0"/>
<rect x="1020" y="620" width="1" height="7" fill="#c0c0c0"/>
<rect x="1024" y="619" width="1" height="8" fill="#c0c0c0"/>
<rect x="1028" y="618" width="1" height="9" fill="#c0c0c0"/>
<rect x="1032" y="618" width="1" height="9" fill="#c0c0c0"/>
<rect x="1036" y="618" width="1" height="9" fill="#c0c0c0"/>
<rect x="1040" y="617" width="1" height="10" fill="#c0c0c0"/>
<rect x="1044" y="616" width="1" height="11" fill="#c0c0c0"/>
<rect x="1048" y="614" width="1" height="13" fill="#c0c0c0"/>
<rect x="1052" y="612" width="1" height="15" fill="#c0c0c0"/>
<rect x="1056" y="611" width="1" height="16" fill="#c0c0c0"/>
<rect x="1060" y="610" width="1" height="17" fill="#c0c0c0"/>
<rect x="1064" y="611" width="1" height="16" fill="#c0c0c0"/>
<rect x="1068" y="614" width="1" height="13" fill="#c0c0c0"/>
<rect x="1072" y="614" width="1" height="13" fill="#c0c0c0"/>
<rect x="1076" y="612" width="1" height="15" fill="#c0c0c0"/>
<rect x="1080" y="611" width="1" height="16" fill="#c0c0c0"/>
<rect x="1084" y="614" width="1" height="13" fill="#c0c0c0"/>
<rect x="1088" y="620" width="1" height="7" fill="#c0c0c0"/>
<rect x="1092" y="624" width="1" height="3" fill="#c0c0c0"/>
<rect x="1096" y="626" width="1" height="2" fill="#c0c0c0"/>
<rect x="1100" y="626" width="1" height="2" fill="#c0c0c0"/>
<rect x="1104" y="626" width="1" height="4" fill="#c0c0c0"/>
<rect x="1108" y="626" width="1" height="7" fill="#c0c0c0"/>
<rect x="1112" y="626" width="1" height="8" fill="#c0c0c0"/>
<rect x="1116" y="626" width="1" height="10" fill="#c0c0c0"/>
<rect x="1120" y="626" width="1" height="11" fill="#c0c0c0"/>
<rect x="1124" y="626" width="1" height="11" fill="#c0c0c0"/>
<rect x="1128" y="626" width="1" height="13" fill="#c0c0c0"/>
<rect x="1132" y="626" width="1" height="14" fill="#c0c0c0"/>
<rect x="1136" y="626" width="1" height="14" fill="#c0c0c0"/>
</g>
<polyline points="4.5,613.4 8.5,613.7 12.5,614.1 16.5,614.3 20.5,614.3 24.5,614.0 28.5,613.6 32.5,613.0 36.5,612.1 40.5,611.4 44.5,610.5 48.5,610.0 52.5,609.5 56.5,608.9 60.5,608.5 64.5,608.1 68.5,607.6 72.5,607.3 76.5,606.9 80.5,606.8 84.5,606.3 88.5,605.9 92.5,605.6 96.5,604.9 100.5,604.3 104.5,603.7 108.5,603.7 112.5,604.4 116.5,605.4 120.5,606.8 124.5,608.3 128.5,609.8 132.5,611.4 136.5,613.0 140.5,614.6 144.5,615.9 148.5,616.6 152.5,617.3 156.5,617.8 160.5,618.1 164.5,618.5 168.5,619.0 172.5,619.7 176.5,620.3 180.5,620.8 184.5,621.1 188.5,621.3 192.5,621.3 196.5,622.0 200.5,623.3 204.5,624.9 208.5,626.8 212.5,628.8 216.5,630.7 220.5,632.5 224.5,634.5 228.5,636.5 232.5,637.8 236.5,638.2 240.5,638.3 244.5,638.0 248.5,637.6 252.5,637.1 256.5,636.5 260.5,635.7 264.5,634.8 268.5,634.3 272.5,633.9 276.5,633.7 280.5,633.8 284.5,633.8 288.5,634.0 292.5,634.4 296.5,635.1 300.5,635.9 304.5,637.0 308.5,638.6 312.5,640.7 316.5,643.1 320.5,645.8 324.5,648.8 328.5,651.7 332.5,654.1 336.5,656.0 340.5,657.2 344.5,657.7 348.5,657.4 352.5,656.9 356.5,656.3 360.5,655.5 364.5,655.2 368.5,655.5 372.5,655.8 376.5,656.0 380.5,656.1 384.5,656.1 388.5,655.4 392.5,654.3 396.5,652.6 400.5,650.5 404.5,647.8 408.5,645.2 412.5,643.0 416.5,641.0 420.5,639.5 424.5,638.9 428.5,638.8 432.5,639.4 436.5,640.5 440.5,642.2 444.5,644.3 448.5,646.4 452.5,648.3 456.5,649.9 460.5,650.9 464.5,651.5 468.5,651.5 472.5,650.7 476.5,649.4 480.5,647.9 484.5,646.3 488.5,644.8 492.5,643.4 496.5,641.9 500.5,640.6 504.5,639.8 508.5,639.2 512.5,638.6 516.5,638.0 520.5,637.2 524.5,636.3 528.5,635.3 532.5,634.4 536.5,633.6 540.5,632.4 544.5,631.4 548.5,630.7 552.5,630.1 556.5,629.6 560.5,629.3 564.5,629.3 568.5,629.1 572.5,629.1 576.5,629.3 580.5,629.3 584.5,629.7 588.5,629.9 592.5,630.1 596.5,630.1 600.5,630.0 604.5,629.6 608.5,629.0 612.5,628.2 616.5,627.4 620.5,626.2 624.5,624.9 628.5,623.7 632.5,622.3 636.5,620.7 640.5,618.9 644.5,616.7 648.5,614.1 652.5,610.7 656.5,606.6 660.5,602.1 664.5,597.2 668.5,592.3 672.5,587.6 676.5,583.2 680.5,579.4 684.5,576.3 688.5,574.5 692.5,573.6 696.5,573.4 700.5,573.8 704.5,574.9 708.5,576.3 712.5,578.0 716.5,580.1 720.5,582.2 724.5,584.2 728.5,585.9 732.5,587.5 736.5,589.2 740.5,591.0 744.5,592.8 748.5,594.5 752.5,596.1 756.5,597.9 760.5,600.0 764.5,602.7 768.5,605.8 772.5,608.9 776.5,611.9 780.5,614.9 784.5,617.9 788.5,620.9 792.5,623.7 796.5,626.0 800.5,627.5 804.5,628.7 808.5,629.4 812.5,629.9 816.5,630.2 820.5,630.3 824.5,630.3 828.5,630.1 832.5,630.0 836.5,629.8 840.5,629.6 844.5,629.6 848.5,629.7 852.5,629.7 856.5,629.6 860.5,629.5 864.5,629.5 868.5,629.4 872.5,629.1 876.5,628.8 880.5,628.2 884.5,626.9 888.5,625.0 892.5,621.3 896.5,616.9 900.5,611.7 904.5,606.0 908.5,599.9 912.5,593.6 916.5,588.1 920.5,583.5 924.5,579.8 928.5,578.2 932.5,577.3 936.5,577.3 940.5,578.0 944.5,579.2 948.5,580.3 952.5,580.3 956.5,579.8 960.5,578.9 964.5,577.8 968.5,576.6 972.5,575.2 976.5,573.7 980.5,572.7 984.5,572.4 988.5,573.4 992.5,575.2 996.5,577.7 1000.5,580.6 1004.5,584.4 1008.5,589.2 1012.5,594.4 1016.5,599.3 1020.5,604.0 1024.5,607.9 1028.5,611.1 1032.5,613.9 1036.5,616.1 1040.5,617.4 1044.5,617.7 1048.5,617.4 1052.5,616.7 1056.5,615.7 1060.5,614.8 1064.5,614.0 1068.5,613.6 1072.5,613.1 1076.5,612.6 1080.5,612.0 1084.5,612.1 1088.5,612.9 1092.5,614.4 1096.5,616.2 1100.5,618.0 1104.5,619.8 1108.5,621.8 1112.5,624.2 1116.5,626.8 1120.5,629.2 1124.5,631.1 1128.5,632.6 1132.5,634.0 1136.5,635.3" fill="none" stroke="#FF0000" stroke-width="1" stroke-dasharray="3 3" shape-rendering="crispEdges"/>
<g shape-rendering="crispEdges">
<line x1="4" x2="1419" y1="709.5" y2="709.5" stroke="#c0c0c0" stroke-dasharray="3 3"/>
<line x1="4" x2="1419" y1="760.5" y2="760.5" stroke="#c0c0c0" stroke-dasharray="3 3"/>
</g>
<polyline points="4.5,724.4 8.5,724.6 12.5,727.9 16.5,725.1 20.5,727.0 24.5,722.5 28.5,724.8 32.5,723.4 36.5,717.3 40.5,721.5 44.5,717.1 48.5,733.0 52.5,723.5 56.5,724.5 60.5,727.4 64.5,723.3 68.5,719.5 72.5,721.7 76.5,720.9 80.5,721.6 84.5,720.0 88.5,718.6 92.5,719.0 96.5,713.0 100.5,714.2 104.5,712.5 108.5,735.0 112.5,743.4 116.5,736.5 120.5,735.5 124.5,734.5 128.5,729.4 132.5,727.2 136.5,722.0 140.5,729.6 144.5,729.9 148.5,735.0 152.5,737.7 156.5,732.6 160.5,729.6 164.5,735.2 168.5,735.2 172.5,728.7 176.5,729.2 180.5,727.0 184.5,732.5 188.5,734.2 192.5,728.4 196.5,751.6 200.5,755.6 204.5,750.7 208.5,746.2 212.5,744.7 216.5,734.8 220.5,741.1 224.5,746.2 228.5,742.5 232.5,736.9 236.5,737.8 240.5,740.2 244.5,735.8 248.5,739.3 252.5,730.5 256.5,736.1 260.5,737.3 264.5,737.8 268.5,743.2 272.5,741.0 276.5,745.2 280.5,745.4 284.5,738.0 288.5,739.0 292.5,744.9 296.5,750.0 300.5,746.9 304.5,757.5 308.5,761.3 312.5,765.8 316.5,766.0 320.5,760.9 324.5,762.9 328.5,755.8 332.5,744.6 336.5,745.1 340.5,741.1 344.5,747.0 348.5,744.4 352.5,754.8 356.5,753.6 360.5,755.2 364.5,762.7 368.5,761.7 372.5,745.1 376.5,738.3 380.5,743.0 384.5,738.5 388.5,735.3 392.5,736.4 396.5,732.1 400.5,739.2 404.5,735.2 408.5,736.3 412.5,738.7 416.5,738.8 420.5,747.5 424.5,753.1 428.5,749.3 432.5,754.0 436.5,757.4 440.5,757.5 444.5,758.5 448.5,751.3 452.5,743.5 456.5,746.1 460.5,746.6 464.5,742.7 468.5,736.4 472.5,737.0 476.5,737.6 480.5,744.2 484.5,745.8 488.5,737.8 492.5,741.3 496.5,737.4 500.5,739.7 504.5,749.5 508.5,739.7 512.5,733.9 516.5,738.0 520.5,735.3 524.5,730.2 528.5,730.2 532.5,735.1 536.5,735.8 540.5,734.0 544.5,739.0 548.5,737.9 552.5,740.9 556.5,735.9 560.5,736.2 564.5,736.5 568.5,731.8 572.5,740.9 576.5,741.8 580.5,736.7 584.5,750.3 588.5,738.1 592.5,735.3 596.5,730.2 600.5,727.7 604.5,723.4 608.5,728.0 612.5,726.9 616.5,728.0 620.5,731.0 624.5,724.3 628.5,729.1 632.5,714.1 636.5,711.9 640.5,709.8 644.5,703.1 648.5,701.5 652.5,693.1 656.5,698.6 660.5,698.4 664.5,695.3 668.5,694.1 672.5,698.8 676.5,701.7 680.5,700.5 684.5,705.5 688.5,711.1 692.5,713.6 696.5,710.6 700.5,708.9 704.5,707.4 708.5,709.4 712.5,717.0 716.5,715.3 720.5,714.0 724.5,713.7 728.5,709.5 732.5,709.5 736.5,719.7 740.5,719.1 744.5,717.8 748.5,716.7 752.5,717.6 756.5,738.2 760.5,739.6 764.5,750.8 768.5,748.3 772.5,743.2 776.5,738.2 780.5,739.1 784.5,743.9 788.5,745.0 792.5,749.2 796.5,736.6 800.5,737.2 804.5,740.9 808.5,731.1 812.5,734.1 816.5,731.7 820.5,740.9 824.5,738.5 828.5,737.0 832.5,739.8 836.5,736.9 840.5,738.0 844.5,739.5 848.5,734.9 852.5,734.5 856.5,733.9 860.5,740.1 864.5,741.0 868.5,734.3 872.5,728.3 876.5,730.1 880.5,719.8 884.5,702.1 888.5,701.2 892.5,685.9 896.5,710.2 900.5,706.7 904.5,707.4 908.5,705.9 912.5,705.7 916.5,726.0 920.5,721.3 924.5,721.9 928.5,722.4 932.5,718.0 936.5,718.2 940.5,719.6 944.5,715.7 948.5,709.3 952.5,705.6 956.5,706.1 960.5,705.7 964.5,714.0 968.5,710.8 972.5,707.1 976.5,712.2 980.5,720.7 984.5,722.4 988.5,731.2 992.5,728.2 996.5,730.1 1000.5,735.0 1004.5,741.2 1008.5,744.8 1012.5,739.5 1016.5,734.8 1020.5,734.1 1024.5,729.6 1028.5,727.4 1032.5,729.7 1036.5,730.9 1040.5,725.6 1044.5,726.4 1048.5,720.9 1052.5,722.3 1056.5,721.3 1060.5,721.9 1064.5,728.2 1068.5,735.1 1072.5,727.1 1076.5,720.9 1080.5,722.2 1084.5,738.1 1088.5,744.5 1092.5,745.6 1096.5,741.1 1100.5,736.5 1104.5,741.9 1108.5,743.3 1112.5,743.8 1116.5,742.7 1120.5,745.6 1124.5,741.8 1128.5,747.7 1132.5,743.1 1136.5,745.3" fill="none" stroke="#1E90FF" stroke-width="1" shape-rendering="crispEdges"/>
<g shape-rendering="crispEdges">
<rect x="1420" y="30" width="2" height="1" fill="#000"/>
<rect x="1420" y="63" width="2" height="1" fill="#000"/>
<rect x="1420" y="96" width="2" height="1" fill="#000"/>
<rect x="1420" y="129" width="2" height="1" fill="#000"/>
<rect x="1420" y="162" width="2" height="1" fill="#000"/>
<rect x="1420" y="195" width="2" height="1" fill="#000"/>
<rect x="1420" y="228" width="2" height="1" fill="#000"/>
<rect x="1420" y="261" width="2" height="1" fill="#000"/>
<rect x="1420" y="294" width="2" height="1" fill="#000"/>
<rect x="1420" y="327" width="2" height="1" fill="#000"/>
<rect x="1420" y="360" width="2" height="1" fill="#000"/>
<rect x="1420" y="393" width="2" height="1" fill="#000"/>
<rect x="1420" y="426" width="2" height="1" fill="#000"/>
<rect x="1420" y="459" width="2" height="1" fill="#000"/>
<rect x="1420" y="492" width="2" height="1" fill="#000"/>
<rect x="1420" y="525" width="2" height="1" fill="#000"/>
<rect x="1420" y="558" width="2" height="1" fill="#000"/>
</g>
<text x="1425" y="33.7" font-size="9.8" text-rendering="geometricPrecision" fill="#000" stroke="#000" stroke-width="0.18" text-anchor="start" textLength="32" lengthAdjust="spacingAndGlyphs">7.21290</text>
<text x="1425" y="66.7" font-size="9.8" text-rendering="geometricPrecision" fill="#000" stroke="#000" stroke-width="0.18" text-anchor="start" textLength="32" lengthAdjust="spacingAndGlyphs">7.17890</text>
<text x="1425" y="99.7" font-size="9.8" text-rendering="geometricPrecision" fill="#000" stroke="#000" stroke-width="0.18" text-anchor="start" textLength="32" lengthAdjust="spacingAndGlyphs">7.14390</text>
<text x="1425" y="132.7" font-size="9.8" text-rendering="geometricPrecision" fill="#000" stroke="#000" stroke-width="0.18" text-anchor="start" textLength="32" lengthAdjust="spacingAndGlyphs">7.10890</text>
<text x="1425" y="165.7" font-size="9.8" text-rendering="geometricPrecision" fill="#000" stroke="#000" stroke-width="0.18" text-anchor="start" textLength="32" lengthAdjust="spacingAndGlyphs">7.07490</text>
<text x="1425" y="198.7" font-size="9.8" text-rendering="geometricPrecision" fill="#000" stroke="#000" stroke-width="0.18" text-anchor="start" textLength="32" lengthAdjust="spacingAndGlyphs">7.03990</text>
<text x="1425" y="231.7" font-size="9.8" text-rendering="geometricPrecision" fill="#000" stroke="#000" stroke-width="0.18" text-anchor="start" textLength="32" lengthAdjust="spacingAndGlyphs">7.00490</text>
<text x="1425" y="264.7" font-size="9.8" text-rendering="geometricPrecision" fill="#000" stroke="#000" stroke-width="0.18" text-anchor="start" textLength="32" lengthAdjust="spacingAndGlyphs">6.97090</text>
<text x="1425" y="297.7" font-size="9.8" text-rendering="geometricPrecision" fill="#000" stroke="#000" stroke-width="0.18" text-anchor="start" textLength="32" lengthAdjust="spacingAndGlyphs">6.93590</text>
<text x="1425" y="330.7" font-size="9.8" text-rendering="geometricPrecision" fill="#000" stroke="#000" stroke-width="0.18" text-anchor="start" textLength="32" lengthAdjust="spacingAndGlyphs">6.90190</text>
<text x="1425" y="363.7" font-size="9.8" text-rendering="geometricPrecision" fill="#000" stroke="#000" stroke-width="0.18" text-anchor="start" textLength="32" lengthAdjust="spacingAndGlyphs">6.86690</text>
<text x="1425" y="396.7" font-size="9.8" text-rendering="geometricPrecision" fill="#000" stroke="#000" stroke-width="0.18" text-anchor="start" textLength="32" lengthAdjust="spacingAndGlyphs">6.83190</text>
<text x="1425" y="429.7" font-size="9.8" text-rendering="geometricPrecision" fill="#000" stroke="#000" stroke-width="0.18" text-anchor="start" textLength="32" lengthAdjust="spacingAndGlyphs">6.79690</text>
<text x="1425" y="462.7" font-size="9.8" text-rendering="geometricPrecision" fill="#000" stroke="#000" stroke-width="0.18" text-anchor="start" textLength="32" lengthAdjust="spacingAndGlyphs">6.76290</text>
<text x="1425" y="495.7" font-size="9.8" text-rendering="geometricPrecision" fill="#000" stroke="#000" stroke-width="0.18" text-anchor="start" textLength="32" lengthAdjust="spacingAndGlyphs">6.72790</text>
<text x="1425" y="528.7" font-size="9.8" text-rendering="geometricPrecision" fill="#000" stroke="#000" stroke-width="0.18" text-anchor="start" textLength="32" lengthAdjust="spacingAndGlyphs">6.69290</text>
<text x="1425" y="561.7" font-size="9.8" text-rendering="geometricPrecision" fill="#000" stroke="#000" stroke-width="0.18" text-anchor="start" textLength="32" lengthAdjust="spacingAndGlyphs">6.65890</text>
<rect x="1421" y="36" width="39" height="11" fill="#FF0000" shape-rendering="crispEdges"/><text x="1425" y="44.7" font-size="9.8" text-rendering="geometricPrecision" fill="#fff" stroke="#fff" stroke-width="0.18" text-anchor="start" textLength="32" lengthAdjust="spacingAndGlyphs">7.20009</text>
<rect x="1421" y="131" width="39" height="11" fill="#FF0000" shape-rendering="crispEdges"/><text x="1425" y="139.7" font-size="9.8" text-rendering="geometricPrecision" fill="#fff" stroke="#fff" stroke-width="0.18" text-anchor="start" textLength="32" lengthAdjust="spacingAndGlyphs">7.10029</text>
<rect x="1421" y="175" width="39" height="11" fill="#000000" shape-rendering="crispEdges"/><text x="1425" y="183.7" font-size="9.8" text-rendering="geometricPrecision" fill="#fff" stroke="#fff" stroke-width="0.18" text-anchor="start" textLength="32" lengthAdjust="spacingAndGlyphs">7.05608</text>
<rect x="1421" y="226" width="39" height="11" fill="#00FF00" shape-rendering="crispEdges"/><text x="1425" y="234.7" font-size="9.8" text-rendering="geometricPrecision" fill="#fff" stroke="#fff" stroke-width="0.18" text-anchor="start" textLength="32" lengthAdjust="spacingAndGlyphs">7.00048</text>
<rect x="1421" y="321" width="39" height="11" fill="#0000FF" shape-rendering="crispEdges"/><text x="1425" y="329.7" font-size="9.8" text-rendering="geometricPrecision" fill="#fff" stroke="#fff" stroke-width="0.18" text-anchor="start" textLength="32" lengthAdjust="spacingAndGlyphs">6.90100</text>
<rect x="1421" y="397" width="39" height="11" fill="#0000FF" shape-rendering="crispEdges"/><text x="1425" y="405.7" font-size="9.8" text-rendering="geometricPrecision" fill="#fff" stroke="#fff" stroke-width="0.18" text-anchor="start" textLength="32" lengthAdjust="spacingAndGlyphs">6.82103</text>
<text x="1423.2" y="573.6" font-size="9.8" text-rendering="geometricPrecision" fill="#000" stroke="#000" stroke-width="0.18" text-anchor="start" textLength="39.5" lengthAdjust="spacingAndGlyphs">0.060687</text>
<rect x="1420" y="626" width="2" height="1" fill="#000" shape-rendering="crispEdges"/>
<text x="1423.5" y="629.2" font-size="9.8" text-rendering="geometricPrecision" fill="#000" stroke="#000" stroke-width="0.18" text-anchor="start" textLength="17" lengthAdjust="spacingAndGlyphs">0.00</text>
<text x="1423.7" y="663.8" font-size="9.8" text-rendering="geometricPrecision" fill="#000" stroke="#000" stroke-width="0.18" text-anchor="start" textLength="42" lengthAdjust="spacingAndGlyphs">-0.040432</text>
<text x="1422.7" y="679.5" font-size="9.8" text-rendering="geometricPrecision" fill="#000" stroke="#000" stroke-width="0.18" text-anchor="start" textLength="15" lengthAdjust="spacingAndGlyphs">100</text>
<text x="1422.7" y="712.5" font-size="9.8" text-rendering="geometricPrecision" fill="#000" stroke="#000" stroke-width="0.18" text-anchor="start" textLength="10" lengthAdjust="spacingAndGlyphs">70</text>
<text x="1422.7" y="763.5" font-size="9.8" text-rendering="geometricPrecision" fill="#000" stroke="#000" stroke-width="0.18" text-anchor="start" textLength="10" lengthAdjust="spacingAndGlyphs">30</text>
<text x="1422.7" y="795.5" font-size="9.8" text-rendering="geometricPrecision" fill="#000" stroke="#000" stroke-width="0.18" text-anchor="start" textLength="5" lengthAdjust="spacingAndGlyphs">0</text>
<text x="8" y="576" font-size="9.7" text-rendering="geometricPrecision" fill="#000" stroke="#000" stroke-width="0.06" text-anchor="start" textLength="154" lengthAdjust="spacingAndGlyphs">MACD(12,26,9) -0.013134 -0.009004</text>
<text x="8" y="682" font-size="9.7" text-rendering="geometricPrecision" fill="#000" stroke="#000" stroke-width="0.06" text-anchor="start" textLength="68" lengthAdjust="spacingAndGlyphs">RSI(14) 41.5136</text>
<path d="M7 32 L10.5 28 L14 32 Z" fill="#000"/>
<text x="19" y="32.6" font-size="9.6" text-rendering="geometricPrecision" fill="#000" stroke="#000" stroke-width="0.06" text-anchor="start" textLength="69" lengthAdjust="spacingAndGlyphs">USDCNH-,Daily</text>
<text x="94.5" y="32.6" font-size="9.6" text-rendering="geometricPrecision" fill="#000" stroke="#000" stroke-width="0.06" text-anchor="start" textLength="140.5" lengthAdjust="spacingAndGlyphs">7.06268 7.06343 7.05607 7.05608</text>
<g shape-rendering="crispEdges">
<rect x="4" y="800" width="1" height="3" fill="#000"/>
<rect x="68" y="800" width="1" height="3" fill="#000"/>
<rect x="132" y="800" width="1" height="3" fill="#000"/>
<rect x="196" y="800" width="1" height="3" fill="#000"/>
<rect x="260" y="800" width="1" height="3" fill="#000"/>
<rect x="324" y="800" width="1" height="3" fill="#000"/>
<rect x="388" y="800" width="1" height="3" fill="#000"/>
<rect x="452" y="800" width="1" height="3" fill="#000"/>
<rect x="516" y="800" width="1" height="3" fill="#000"/>
<rect x="580" y="800" width="1" height="3" fill="#000"/>
<rect x="644" y="800" width="1" height="3" fill="#000"/>
<rect x="708" y="800" width="1" height="3" fill="#000"/>
<rect x="772" y="800" width="1" height="3" fill="#000"/>
<rect x="836" y="800" width="1" height="3" fill="#000"/>
<rect x="900" y="800" width="1" height="3" fill="#000"/>
<rect x="964" y="800" width="1" height="3" fill="#000"/>
<rect x="1028" y="800" width="1" height="3" fill="#000"/>
<rect x="1092" y="800" width="1" height="3" fill="#000"/>
</g>
<text x="3" y="812" font-size="9.3" text-rendering="geometricPrecision" fill="#000" stroke="#000" stroke-width="0.08" text-anchor="start">26 Sep 2018</text>
<text x="67" y="812" font-size="9.3" text-rendering="geometricPrecision" fill="#000" stroke="#000" stroke-width="0.08" text-anchor="start">18 Oct 2018</text>
<text x="131" y="812" font-size="9.3" text-rendering="geometricPrecision" fill="#000" stroke="#000" stroke-width="0.08" text-anchor="start">9 Nov 2018</text>
<text x="195" y="812" font-size="9.3" text-rendering="geometricPrecision" fill="#000" stroke="#000" stroke-width="0.08" text-anchor="start">3 Dec 2018</text>
<text x="259" y="812" font-size="9.3" text-rendering="geometricPrecision" fill="#000" stroke="#000" stroke-width="0.08" text-anchor="start">25 Dec 2018</text>
<text x="323" y="812" font-size="9.3" text-rendering="geometricPrecision" fill="#000" stroke="#000" stroke-width="0.08" text-anchor="start">16 Jan 2019</text>
<text x="387" y="812" font-size="9.3" text-rendering="geometricPrecision" fill="#000" stroke="#000" stroke-width="0.08" text-anchor="start">7 Feb 2019</text>
<text x="451" y="812" font-size="9.3" text-rendering="geometricPrecision" fill="#000" stroke="#000" stroke-width="0.08" text-anchor="start">1 Mar 2019</text>
<text x="515" y="812" font-size="9.3" text-rendering="geometricPrecision" fill="#000" stroke="#000" stroke-width="0.08" text-anchor="start">25 Mar 2019</text>
<text x="579" y="812" font-size="9.3" text-rendering="geometricPrecision" fill="#000" stroke="#000" stroke-width="0.08" text-anchor="start">16 Apr 2019</text>
<text x="643" y="812" font-size="9.3" text-rendering="geometricPrecision" fill="#000" stroke="#000" stroke-width="0.08" text-anchor="start">9 May 2019</text>
<text x="707" y="812" font-size="9.3" text-rendering="geometricPrecision" fill="#000" stroke="#000" stroke-width="0.08" text-anchor="start">31 May 2019</text>
<text x="771" y="812" font-size="9.3" text-rendering="geometricPrecision" fill="#000" stroke="#000" stroke-width="0.08" text-anchor="start">24 Jun 2019</text>
<text x="835" y="812" font-size="9.3" text-rendering="geometricPrecision" fill="#000" stroke="#000" stroke-width="0.08" text-anchor="start">16 Jul 2019</text>
<text x="899" y="812" font-size="9.3" text-rendering="geometricPrecision" fill="#000" stroke="#000" stroke-width="0.08" text-anchor="start">7 Aug 2019</text>
<text x="963" y="812" font-size="9.3" text-rendering="geometricPrecision" fill="#000" stroke="#000" stroke-width="0.08" text-anchor="start">29 Aug 2019</text>
<text x="1027" y="812" font-size="9.3" text-rendering="geometricPrecision" fill="#000" stroke="#000" stroke-width="0.08" text-anchor="start">20 Sep 2019</text>
<text x="1091" y="812" font-size="9.3" text-rendering="geometricPrecision" fill="#000" stroke="#000" stroke-width="0.08" text-anchor="start">14 Oct 2019</text>
<path d="M4 793 L4 799 L10 799 Z" fill="#c8c8c8"/>
<path d="M1129 22 L1141 22 L1135 28 Z" fill="#c0c0c0"/></svg>
<div id="octbg"></div>
<div id="oct">
  <svg width="219" height="64" viewBox="0 0 219 64" style="position:absolute;left:0;top:0" text-rendering="geometricPrecision" font-family="Liberation Sans, Arial, sans-serif">
    <defs>
      <linearGradient id="gbtn" x1="0" y1="0" x2="0" y2="24" gradientUnits="userSpaceOnUse"><stop offset="0" stop-color="#f85252"/><stop offset="1" stop-color="#e43838"/></linearGradient>
      <linearGradient id="gbig" x1="0" y1="24" x2="0" y2="64" gradientUnits="userSpaceOnUse"><stop offset="0" stop-color="#e02e2e"/><stop offset="0.85" stop-color="#b80808"/><stop offset="1" stop-color="#b00000"/></linearGradient>
    </defs>
    <g shape-rendering="crispEdges">
      <rect x="0" y="0" width="52" height="24" fill="url(#gbtn)"/>
      <rect x="167" y="0" width="52" height="24" fill="url(#gbtn)"/>
      <rect x="0" y="24" width="109" height="40" fill="url(#gbig)"/>
      <rect x="111" y="24" width="108" height="40" fill="url(#gbig)"/>
      <rect x="51" y="0" width="1" height="24" fill="#c82020"/><rect x="167" y="0" width="1" height="24" fill="#c82020"/><rect x="52" y="24" width="57" height="1" fill="#c41414"/><rect x="111" y="24" width="56" height="1" fill="#c41414"/>
      <rect x="4" y="23" width="44" height="1" fill="#c01818"/>
      <rect x="4" y="24" width="44" height="1" fill="#f08888"/>
      <rect x="171" y="23" width="44" height="1" fill="#c01818"/>
      <rect x="171" y="24" width="44" height="1" fill="#f08888"/>
    </g>
    <text x="12" y="16" font-size="11.4" fill="#fff" textLength="26" lengthAdjust="spacingAndGlyphs">SELL</text>
    <text x="180.4" y="16" font-size="11.4" fill="#fff" textLength="23" lengthAdjust="spacingAndGlyphs">BUY</text>
    <text x="20.1" y="55.2" font-size="12.5" font-weight="bold" fill="#fff" textLength="23" lengthAdjust="spacingAndGlyphs">7.05</text>
    <text x="46.8" y="55.2" font-size="34.4" fill="#fff" stroke="url(#gbig)" stroke-width="0.6" textLength="37.5" lengthAdjust="spacingAndGlyphs">60</text>
    <text x="87.1" y="38.7" font-size="11.5" font-weight="bold" fill="#fff" textLength="6.6" lengthAdjust="spacingAndGlyphs">8</text>
    <text x="129.5" y="55.2" font-size="12.5" font-weight="bold" fill="#fff" textLength="23" lengthAdjust="spacingAndGlyphs">7.05</text>
    <text x="157.3" y="55.2" font-size="34.4" fill="#fff" stroke="url(#gbig)" stroke-width="0.6" textLength="37.5" lengthAdjust="spacingAndGlyphs">86</text>
    <text x="197.5" y="38.7" font-size="11.5" font-weight="bold" fill="#fff" textLength="6.6" lengthAdjust="spacingAndGlyphs">4</text>
  </svg>
  <div class="spin">
    <div class="sb" style="left:0px;border-right:1px solid #a8aab4"><svg width="19" height="17" style="position:absolute;left:0;top:0"><path d="M7 8.5 L12 8.5 L9.5 11.5 Z" fill="#5060c8"/></svg></div>
    <div class="val">1.00</div>
    <div class="sb" style="right:0px;border-left:1px solid #a8aab4"><svg width="19" height="17" style="position:absolute;left:0;top:0"><path d="M7 11 L12 11 L9.5 8 Z" fill="#5060c8"/></svg></div>
  </div>
</div>
<div id="tabs">
  <div class="topl"></div>
  <div class="bar"></div>
  <div class="blk"></div>
  <div class="edge"></div>
  <div class="t" style="left:16px">EURUSD-,Daily</div><div class="s" style="left:113px"></div>
  <div class="t" style="left:123px">AUDUSD-,Daily</div><div class="s" style="left:221px"></div>
  <div class="t" style="left:233px">USDCHF-,Daily</div><div class="s" style="left:329px"></div>
  <div class="t" style="left:340px">USDCAD-,Daily</div>
  <div class="active"><span>USDCNH-,Daily</span></div>
  <div class="t" style="left:560px">EURCHF-,Weekly</div><div class="s" style="left:669px"></div>
  <div class="t" style="left:681px">XAUUSD-,Weekly</div><div class="s" style="left:793px"></div>
  <div class="t" style="left:804px">GBPUSD-,H1</div><div class="s" style="left:889px"></div>
  <div class="t" style="left:900px">UKOil-,H1</div><div class="s" style="left:969px"></div>
  <div class="t" style="left:979px">USDX-,Weekly</div><div class="s" style="left:1073px"></div>
  <div class="t" style="left:1083px">EURCHF-,H1</div><div class="s" style="left:1166px"></div>
  <div class="t" style="left:1177px">USOil-,H1</div><div class="s" style="left:1245px"></div>
  <svg width="30" height="10" style="position:absolute;left:1432px;top:7px"><path d="M6 0 L6 7 L2.5 3.5 Z" fill="#999"/><path d="M22 0 L22 7 L25.5 3.5 Z" fill="#999"/></svg>
  <div class="bot1"></div><div class="bot2"></div>
</div>
</body>
</html>
